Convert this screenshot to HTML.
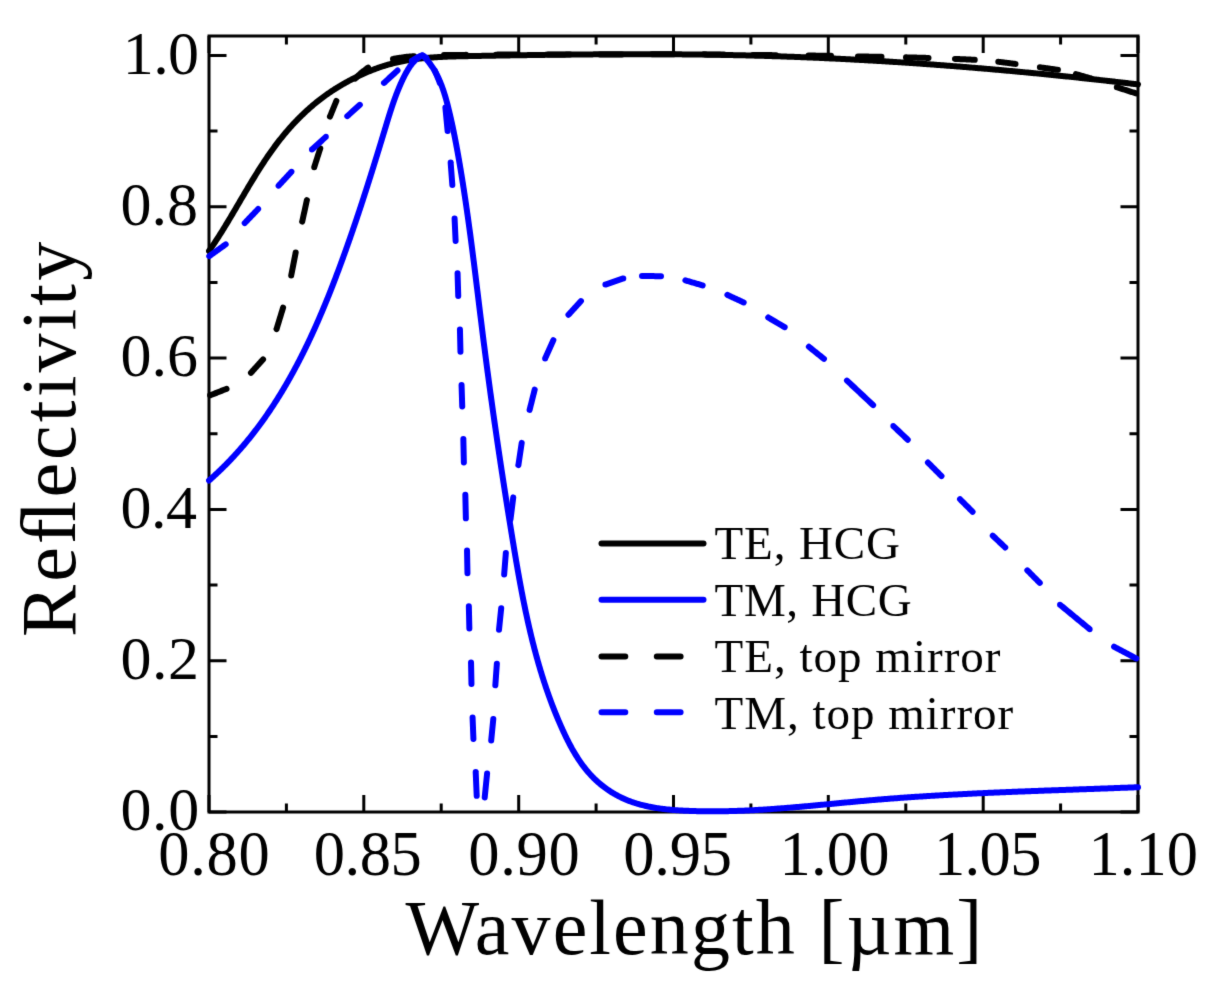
<!DOCTYPE html><html><head><meta charset="utf-8"><title>Reflectivity</title><style>html,body{margin:0;padding:0;background:#fff;overflow:hidden;}svg{display:block;will-change:transform;}text{font-family:"Liberation Serif",serif;fill:#000;}</style></head><body>
<svg width="1210" height="989" viewBox="0 0 1210 989">
<filter id="soft" x="0" y="0" width="1210" height="989" filterUnits="userSpaceOnUse" color-interpolation-filters="sRGB"><feConvolveMatrix order="3" kernelMatrix="0.01134 0.08382 0.01134 0.08382 0.61935 0.08382 0.01134 0.08382 0.01134" edgeMode="duplicate" preserveAlpha="true"/></filter>
<g filter="url(#soft)">
<rect x="0" y="0" width="1210" height="989" fill="#fff"/>
<path d="M209.0,812V795M209.0,36V53M363.8,812V795M363.8,36V53M518.7,812V795M518.7,36V53M673.5,812V795M673.5,36V53M828.3,812V795M828.3,36V53M983.2,812V795M983.2,36V53M1138.0,812V795M1138.0,36V53M286.4,812V803.5M286.4,36V44.5M441.2,812V803.5M441.2,36V44.5M596.1,812V803.5M596.1,36V44.5M750.9,812V803.5M750.9,36V44.5M905.8,812V803.5M905.8,36V44.5M1060.6,812V803.5M1060.6,36V44.5M209,812.0H226.5M1138,812.0H1120.5M209,660.7H226.5M1138,660.7H1120.5M209,509.4H226.5M1138,509.4H1120.5M209,358.1H226.5M1138,358.1H1120.5M209,206.8H226.5M1138,206.8H1120.5M209,55.5H226.5M1138,55.5H1120.5M209,736.4H217.5M1138,736.4H1129.5M209,585.0H217.5M1138,585.0H1129.5M209,433.8H217.5M1138,433.8H1129.5M209,282.5H217.5M1138,282.5H1129.5M209,131.1H217.5M1138,131.1H1129.5" stroke="#000" stroke-width="3" fill="none"/>
<rect x="209" y="36" width="929" height="776" stroke="#000" stroke-width="3" fill="none"/>
<clipPath id="pc"><rect x="206" y="30" width="935" height="790"/></clipPath>
<g fill="none" stroke-width="6.00" stroke-linejoin="round" stroke-linecap="round" clip-path="url(#pc)">
<path d="M209.00,251.00 L209.71,249.98 L210.42,248.97 L211.12,247.95 L211.82,246.92 L212.52,245.90 L213.21,244.87 L213.90,243.83 L214.59,242.80 L215.28,241.76 L215.96,240.72 L216.64,239.68 L217.32,238.64 L217.99,237.59 L218.66,236.55 L219.33,235.50 L220.00,234.44 L220.67,233.39 L221.33,232.33 L221.99,231.28 L222.65,230.22 L223.31,229.16 L223.97,228.09 L224.62,227.03 L225.27,225.96 L225.90,224.94 L226.52,223.91 L227.14,222.89 L227.76,221.86 L228.38,220.83 L229.00,219.80 L229.62,218.77 L230.24,217.74 L230.85,216.70 L231.47,215.67 L232.08,214.63 L232.69,213.60 L233.31,212.56 L233.92,211.53 L234.53,210.49 L235.14,209.45 L235.75,208.41 L236.36,207.37 L236.97,206.34 L237.58,205.30 L238.19,204.26 L238.80,203.22 L239.41,202.18 L240.02,201.14 L240.63,200.10 L241.24,199.06 L241.85,198.02 L242.46,196.98 L243.07,195.94 L243.68,194.90 L244.29,193.86 L244.91,192.82 L245.52,191.79 L246.13,190.75 L246.75,189.71 L247.36,188.68 L247.98,187.64 L248.59,186.60 L249.21,185.57 L249.83,184.54 L250.45,183.50 L251.07,182.47 L251.70,181.44 L252.32,180.41 L252.95,179.38 L253.57,178.36 L254.20,177.33 L254.83,176.31 L255.46,175.28 L256.10,174.26 L256.73,173.24 L257.37,172.22 L258.01,171.20 L258.65,170.18 L259.29,169.17 L259.94,168.16 L260.59,167.15 L261.23,166.14 L261.89,165.13 L262.57,164.08 L263.25,163.04 L263.94,161.99 L264.63,160.95 L265.32,159.91 L266.02,158.88 L266.72,157.84 L267.42,156.81 L268.12,155.78 L268.83,154.76 L269.55,153.73 L270.26,152.71 L270.98,151.70 L271.70,150.68 L272.43,149.67 L273.16,148.66 L273.89,147.65 L274.63,146.65 L275.37,145.65 L276.11,144.66 L276.86,143.66 L277.62,142.67 L278.37,141.69 L279.13,140.70 L279.90,139.72 L280.67,138.75 L281.45,137.78 L282.23,136.81 L283.01,135.84 L283.80,134.88 L284.59,133.93 L285.39,132.97 L286.19,132.03 L287.00,131.08 L287.81,130.14 L288.63,129.20 L289.45,128.27 L290.28,127.34 L291.11,126.42 L291.94,125.50 L292.78,124.58 L293.63,123.67 L294.48,122.77 L295.33,121.87 L296.19,120.97 L297.05,120.07 L297.92,119.19 L298.79,118.30 L299.67,117.42 L300.55,116.55 L301.44,115.68 L302.33,114.82 L303.23,113.96 L304.13,113.10 L305.04,112.25 L305.95,111.41 L306.87,110.57 L307.79,109.73 L308.72,108.90 L309.65,108.08 L310.58,107.26 L311.53,106.45 L312.47,105.64 L313.42,104.83 L314.38,104.04 L315.34,103.24 L316.31,102.46 L317.28,101.68 L318.25,100.90 L319.23,100.13 L320.22,99.37 L321.21,98.61 L322.21,97.86 L323.21,97.11 L324.21,96.37 L325.22,95.63 L326.20,94.93 L327.18,94.24 L328.16,93.55 L329.15,92.87 L330.15,92.19 L331.14,91.52 L332.15,90.85 L333.16,90.19 L334.17,89.54 L335.18,88.89 L336.21,88.24 L337.23,87.61 L338.26,86.97 L339.29,86.35 L340.33,85.73 L341.37,85.11 L342.42,84.50 L343.47,83.90 L344.52,83.30 L345.58,82.71 L346.64,82.12 L347.70,81.54 L348.77,80.96 L349.84,80.39 L350.91,79.83 L351.99,79.27 L353.07,78.71 L354.15,78.17 L355.24,77.62 L356.33,77.08 L357.42,76.55 L358.52,76.03 L359.61,75.51 L360.71,74.99 L361.82,74.48 L362.92,73.98 L364.03,73.49 L365.14,73.00 L366.26,72.52 L367.37,72.04 L368.49,71.57 L369.61,71.11 L370.73,70.65 L371.86,70.21 L372.99,69.77 L374.12,69.33 L375.25,68.91 L376.38,68.49 L377.51,68.08 L378.65,67.68 L379.79,67.28 L380.93,66.90 L382.07,66.52 L383.22,66.15 L384.36,65.79 L385.56,65.43 L386.76,65.07 L387.95,64.72 L389.15,64.39 L390.35,64.06 L391.56,63.74 L392.76,63.43 L393.97,63.13 L395.17,62.84 L396.38,62.56 L397.59,62.28 L398.80,62.02 L400.02,61.76 L401.23,61.51 L402.45,61.27 L403.66,61.03 L404.88,60.81 L406.10,60.59 L407.32,60.38 L408.54,60.17 L409.76,59.98 L410.99,59.79 L412.21,59.60 L413.44,59.43 L414.67,59.26 L415.89,59.09 L417.12,58.94 L418.35,58.78 L419.58,58.64 L420.82,58.50 L422.05,58.37 L423.28,58.24 L424.52,58.12 L425.75,58.00 L426.99,57.89 L428.23,57.78 L429.46,57.68 L430.70,57.58 L431.94,57.49 L433.18,57.40 L434.42,57.31 L435.66,57.23 L436.91,57.16 L438.15,57.08 L439.39,57.01 L440.64,56.95 L441.88,56.89 L443.13,56.83 L444.37,56.77 L445.62,56.72 L446.86,56.67 L448.11,56.62 L449.36,56.58 L450.61,56.54 L451.85,56.50 L453.10,56.46 L454.35,56.42 L455.60,56.39 L456.85,56.36 L458.10,56.33 L459.30,56.30 L460.50,56.27 L461.70,56.24 L462.90,56.22 L464.10,56.20 L465.30,56.17 L466.50,56.15 L467.70,56.13 L468.90,56.10 L470.10,56.08 L471.30,56.06 L472.50,56.04 L473.70,56.02 L474.90,55.99 L476.11,55.97 L477.31,55.95 L478.51,55.93 L479.71,55.91 L480.91,55.89 L482.11,55.86 L483.31,55.84 L484.51,55.82 L485.71,55.80 L486.91,55.78 L488.11,55.76 L489.31,55.74 L490.51,55.72 L491.71,55.70 L492.91,55.67 L494.12,55.65 L495.32,55.63 L496.52,55.61 L497.72,55.59 L498.92,55.57 L500.12,55.55 L501.32,55.53 L502.52,55.51 L503.72,55.49 L504.92,55.47 L506.12,55.45 L507.32,55.43 L508.52,55.41 L509.72,55.39 L510.92,55.37 L512.13,55.35 L513.33,55.34 L514.53,55.32 L515.73,55.30 L516.93,55.28 L518.13,55.26 L519.33,55.24 L520.53,55.22 L521.73,55.20 L522.93,55.19 L524.13,55.17 L525.33,55.15 L526.53,55.13 L527.73,55.11 L528.93,55.10 L530.14,55.08 L531.34,55.06 L532.54,55.04 L533.74,55.03 L534.94,55.01 L536.14,54.99 L537.34,54.98 L538.54,54.96 L539.74,54.94 L540.94,54.93 L542.14,54.91 L543.34,54.90 L544.54,54.88 L545.74,54.86 L546.94,54.85 L548.14,54.83 L549.35,54.82 L550.55,54.80 L551.75,54.79 L552.95,54.77 L554.15,54.76 L555.35,54.74 L556.55,54.73 L557.75,54.71 L558.95,54.70 L560.15,54.69 L561.35,54.67 L562.55,54.66 L563.75,54.65 L564.95,54.63 L566.15,54.62 L567.35,54.61 L568.56,54.59 L569.76,54.58 L570.96,54.57 L572.16,54.56 L573.36,54.54 L574.56,54.53 L575.76,54.52 L576.96,54.51 L578.16,54.50 L579.36,54.49 L580.56,54.48 L581.76,54.47 L582.96,54.46 L584.16,54.44 L585.36,54.43 L586.56,54.42 L587.76,54.42 L588.96,54.41 L590.16,54.40 L591.37,54.39 L592.57,54.38 L593.77,54.37 L594.97,54.36 L596.17,54.35 L597.37,54.34 L598.57,54.34 L599.77,54.33 L600.97,54.32 L602.17,54.31 L603.37,54.31 L604.57,54.30 L605.77,54.29 L606.97,54.29 L608.17,54.28 L609.37,54.27 L610.57,54.27 L611.77,54.26 L612.97,54.26 L614.17,54.25 L615.37,54.25 L616.57,54.24 L617.78,54.24 L618.98,54.23 L620.18,54.23 L621.38,54.23 L622.58,54.22 L623.78,54.22 L624.98,54.22 L626.18,54.21 L627.38,54.21 L628.58,54.21 L629.78,54.21 L630.98,54.21 L632.18,54.20 L633.38,54.20 L634.58,54.20 L635.78,54.20 L636.98,54.20 L638.18,54.20 L639.38,54.20 L640.58,54.20 L641.78,54.20 L642.98,54.20 L644.18,54.20 L645.38,54.20 L646.58,54.21 L647.78,54.21 L648.98,54.21 L650.18,54.21 L651.38,54.21 L652.58,54.22 L653.78,54.22 L654.98,54.22 L656.18,54.23 L657.38,54.23 L658.58,54.24 L659.78,54.24 L660.98,54.25 L662.18,54.25 L663.38,54.26 L664.58,54.26 L665.79,54.27 L666.99,54.27 L668.19,54.28 L669.39,54.29 L670.59,54.30 L671.79,54.30 L672.99,54.31 L674.19,54.32 L675.39,54.33 L676.59,54.34 L677.79,54.34 L678.99,54.35 L680.19,54.36 L681.39,54.37 L682.59,54.38 L683.79,54.39 L685.04,54.41 L686.29,54.42 L687.54,54.43 L688.79,54.44 L690.03,54.45 L691.28,54.47 L692.53,54.48 L693.78,54.49 L695.03,54.51 L696.28,54.52 L697.53,54.54 L698.78,54.55 L700.03,54.57 L701.28,54.58 L702.53,54.60 L703.78,54.62 L705.03,54.63 L706.28,54.65 L707.53,54.67 L708.78,54.69 L710.03,54.70 L711.28,54.72 L712.53,54.74 L713.78,54.76 L715.03,54.78 L716.28,54.80 L717.53,54.82 L718.78,54.84 L720.03,54.86 L721.28,54.89 L722.53,54.91 L723.78,54.93 L725.03,54.95 L726.28,54.98 L727.53,55.00 L728.78,55.02 L730.03,55.05 L731.28,55.07 L732.52,55.10 L733.77,55.13 L735.02,55.15 L736.27,55.18 L737.52,55.20 L738.77,55.23 L740.02,55.26 L741.27,55.29 L742.52,55.32 L743.77,55.35 L745.02,55.37 L746.27,55.40 L747.52,55.43 L748.77,55.47 L750.02,55.50 L751.27,55.53 L752.51,55.56 L753.76,55.59 L755.01,55.63 L756.26,55.66 L757.51,55.69 L758.76,55.73 L760.01,55.76 L761.26,55.80 L762.51,55.83 L763.76,55.87 L765.01,55.90 L766.26,55.94 L767.50,55.98 L768.75,56.01 L770.00,56.05 L771.25,56.09 L772.50,56.13 L773.75,56.17 L775.00,56.21 L776.25,56.25 L777.50,56.29 L778.75,56.33 L779.99,56.37 L781.24,56.41 L782.49,56.46 L783.74,56.50 L784.99,56.54 L786.24,56.58 L787.49,56.63 L788.74,56.67 L789.99,56.72 L791.23,56.76 L792.48,56.81 L793.73,56.86 L794.98,56.90 L796.23,56.95 L797.48,57.00 L798.73,57.04 L799.98,57.09 L801.22,57.14 L802.47,57.19 L803.72,57.24 L804.97,57.29 L806.22,57.34 L807.47,57.39 L808.72,57.44 L809.96,57.49 L811.21,57.55 L812.46,57.60 L813.71,57.65 L814.96,57.70 L816.21,57.76 L817.45,57.81 L818.70,57.87 L819.95,57.92 L821.20,57.98 L822.45,58.03 L823.70,58.09 L824.94,58.15 L826.19,58.20 L827.44,58.26 L828.69,58.32 L829.94,58.38 L831.19,58.43 L832.43,58.49 L833.68,58.55 L834.93,58.61 L836.18,58.67 L837.43,58.73 L838.68,58.80 L839.92,58.86 L841.17,58.92 L842.42,58.98 L843.67,59.04 L844.92,59.11 L846.16,59.17 L847.41,59.23 L848.66,59.30 L849.91,59.36 L851.16,59.43 L852.40,59.50 L853.65,59.56 L854.90,59.63 L856.15,59.69 L857.39,59.76 L858.64,59.83 L859.89,59.90 L861.14,59.97 L862.39,60.03 L863.63,60.10 L864.88,60.17 L866.13,60.24 L867.38,60.31 L868.62,60.39 L869.87,60.46 L871.12,60.53 L872.37,60.60 L873.61,60.67 L874.86,60.75 L876.11,60.82 L877.36,60.89 L878.60,60.97 L879.85,61.04 L881.10,61.12 L882.35,61.19 L883.59,61.27 L884.84,61.34 L886.09,61.42 L887.34,61.50 L888.58,61.57 L889.83,61.65 L891.08,61.73 L892.32,61.81 L893.57,61.89 L894.82,61.97 L896.07,62.04 L897.31,62.12 L898.56,62.20 L899.81,62.29 L901.05,62.37 L902.30,62.45 L903.55,62.53 L904.80,62.61 L906.04,62.70 L907.29,62.78 L908.54,62.86 L909.78,62.95 L911.03,63.03 L912.28,63.11 L913.52,63.20 L914.77,63.28 L916.02,63.37 L917.26,63.46 L918.51,63.54 L919.76,63.63 L921.00,63.72 L922.25,63.80 L923.50,63.89 L924.74,63.98 L925.99,64.07 L927.24,64.16 L928.48,64.25 L929.73,64.34 L930.98,64.43 L932.22,64.52 L933.47,64.61 L934.72,64.70 L935.96,64.79 L937.21,64.89 L938.45,64.98 L939.70,65.07 L940.95,65.17 L942.19,65.26 L943.44,65.35 L944.69,65.45 L945.93,65.54 L947.18,65.64 L948.42,65.73 L949.67,65.83 L950.92,65.93 L952.16,66.02 L953.41,66.12 L954.66,66.22 L955.90,66.31 L957.15,66.41 L958.39,66.51 L959.64,66.61 L960.88,66.71 L962.13,66.81 L963.38,66.91 L964.62,67.01 L965.87,67.11 L967.11,67.21 L968.36,67.31 L969.61,67.42 L970.85,67.52 L972.10,67.62 L973.34,67.72 L974.59,67.83 L975.83,67.93 L977.08,68.03 L978.32,68.14 L979.57,68.24 L980.82,68.35 L982.06,68.45 L983.31,68.56 L984.55,68.67 L985.80,68.77 L987.04,68.88 L988.29,68.99 L989.53,69.09 L990.78,69.20 L992.02,69.31 L993.27,69.42 L994.51,69.53 L995.76,69.64 L997.00,69.75 L998.25,69.86 L999.49,69.97 L1000.74,70.08 L1001.98,70.19 L1003.23,70.30 L1004.47,70.41 L1005.72,70.53 L1006.96,70.64 L1008.21,70.75 L1009.45,70.87 L1010.70,70.98 L1011.94,71.09 L1013.19,71.21 L1014.43,71.32 L1015.68,71.44 L1016.92,71.55 L1018.17,71.67 L1019.41,71.78 L1020.66,71.90 L1021.90,72.02 L1023.09,72.13 L1024.29,72.24 L1025.48,72.36 L1026.68,72.47 L1027.87,72.58 L1029.07,72.70 L1030.26,72.81 L1031.46,72.93 L1032.65,73.04 L1033.85,73.16 L1035.04,73.27 L1036.23,73.39 L1037.43,73.51 L1038.62,73.62 L1039.82,73.74 L1041.01,73.86 L1042.21,73.97 L1043.40,74.09 L1044.59,74.21 L1045.79,74.33 L1046.98,74.45 L1048.18,74.57 L1049.37,74.69 L1050.57,74.81 L1051.76,74.93 L1052.95,75.05 L1054.15,75.17 L1055.34,75.29 L1056.54,75.41 L1057.73,75.53 L1058.92,75.65 L1060.12,75.77 L1061.31,75.90 L1062.50,76.02 L1063.70,76.14 L1064.89,76.27 L1066.09,76.39 L1067.28,76.51 L1068.47,76.64 L1069.67,76.76 L1070.86,76.89 L1072.05,77.01 L1073.25,77.14 L1074.44,77.27 L1075.63,77.39 L1076.83,77.52 L1078.02,77.64 L1079.21,77.77 L1080.41,77.90 L1081.60,78.03 L1082.79,78.16 L1083.99,78.28 L1085.18,78.41 L1086.37,78.54 L1087.57,78.67 L1088.76,78.80 L1089.95,78.93 L1091.15,79.06 L1092.34,79.19 L1093.53,79.32 L1094.73,79.45 L1095.92,79.58 L1097.11,79.71 L1098.30,79.85 L1099.50,79.98 L1100.69,80.11 L1101.88,80.24 L1103.08,80.38 L1104.27,80.51 L1105.46,80.64 L1106.65,80.78 L1107.85,80.91 L1109.04,81.05 L1110.23,81.18 L1111.42,81.32 L1112.62,81.45 L1113.81,81.59 L1115.00,81.72 L1116.19,81.86 L1117.39,82.00 L1118.58,82.13 L1119.77,82.27 L1120.96,82.41 L1122.16,82.55 L1123.35,82.68 L1124.54,82.82 L1125.73,82.96 L1126.92,83.10 L1128.12,83.24 L1129.31,83.38 L1130.50,83.52 L1131.69,83.66 L1132.88,83.80 L1134.08,83.94 L1135.27,84.08 L1136.46,84.22 L1137.65,84.36 L1138.00,84.40" stroke="#000"/>
<path d="M210.06,395.36 L210.08,395.36 L210.78,395.08 L211.49,394.80 L212.19,394.52 L212.90,394.24 L213.60,393.96 L214.31,393.68 L215.01,393.40 L215.72,393.12 L216.42,392.84 L217.13,392.57 L217.83,392.29 L218.53,392.01 L219.24,391.73 L219.94,391.45 L220.65,391.17 L221.35,390.89 L222.06,390.61 L222.76,390.33 L223.47,390.05 L224.17,389.77 L224.88,389.50 L225.58,389.22 L226.29,388.94 L226.54,388.84M250.94,372.82 L250.95,372.81 L251.45,372.25 L251.95,371.69 L252.46,371.13 L252.96,370.57 L253.47,370.01 L253.97,369.45 L254.48,368.90 L254.98,368.34 L255.49,367.78 L255.99,367.22 L256.50,366.66 L257.00,366.10 L257.50,365.54 L258.01,364.98 L258.51,364.42 L259.02,363.86 L259.52,363.30 L260.03,362.75 L260.53,362.19 L261.04,361.63 L261.54,361.07 L262.05,360.51 L262.55,359.95 L263.05,359.39 L263.06,359.38M276.56,329.01 L276.57,329.00 L276.79,328.28 L277.01,327.56 L277.23,326.85 L277.45,326.13 L277.67,325.41 L277.89,324.69 L278.10,323.97 L278.32,323.25 L278.54,322.53 L278.76,321.81 L278.98,321.10 L279.20,320.38 L279.42,319.66 L279.64,318.94 L279.86,318.22 L280.08,317.50 L280.30,316.78 L280.52,316.06 L280.74,315.34 L280.96,314.63 L281.18,313.91 L281.40,313.19 L281.62,312.47 L281.84,311.75 L282.06,311.03 L282.28,310.31 L282.50,309.59 L282.72,308.88 L282.94,308.16 L283.09,307.67M291.19,275.53 L291.19,275.51 L291.34,274.77 L291.48,274.03 L291.63,273.29 L291.77,272.54 L291.92,271.80 L292.07,271.06 L292.21,270.31 L292.36,269.57 L292.50,268.83 L292.65,268.09 L292.79,267.34 L292.94,266.60 L293.09,265.86 L293.23,265.11 L293.38,264.37 L293.52,263.63 L293.67,262.89 L293.81,262.14 L293.96,261.40 L294.11,260.66 L294.25,259.91 L294.40,259.17 L294.54,258.43 L294.69,257.69 L294.83,256.94 L294.98,256.20 L295.13,255.46 L295.27,254.71 L295.42,253.97 L295.56,253.23 L295.71,252.49 L295.71,252.47M302.22,221.65 L302.23,221.63 L302.39,220.89 L302.55,220.15 L302.71,219.41 L302.87,218.67 L303.03,217.93 L303.19,217.19 L303.35,216.45 L303.51,215.71 L303.67,214.97 L303.83,214.23 L303.99,213.49 L304.15,212.75 L304.31,212.01 L304.47,211.27 L304.63,210.53 L304.79,209.79 L304.95,209.05 L305.11,208.31 L305.27,207.57 L305.43,206.83 L305.59,206.09 L305.75,205.35 L305.91,204.61 L306.07,203.87 L306.23,203.13 L306.39,202.39 L306.55,201.65 L306.71,200.91 L306.87,200.17 L306.88,200.15M314.21,167.20 L314.21,167.19 L314.45,166.47 L314.68,165.75 L314.91,165.04 L315.14,164.32 L315.37,163.60 L315.60,162.89 L315.83,162.17 L316.06,161.45 L316.29,160.74 L316.52,160.02 L316.75,159.30 L316.98,158.59 L317.21,157.87 L317.44,157.15 L317.67,156.44 L317.90,155.72 L318.13,155.00 L318.36,154.29 L318.59,153.57 L318.83,152.85 L319.06,152.13 L319.29,151.42 L319.52,150.70 L319.75,149.98 L319.98,149.27 L320.21,148.55 L320.29,148.30M329.95,116.65 L329.96,116.63 L330.25,115.93 L330.53,115.23 L330.82,114.53 L331.10,113.83 L331.39,113.12 L331.67,112.42 L331.96,111.72 L332.25,111.02 L332.53,110.32 L332.82,109.62 L333.10,108.92 L333.39,108.22 L333.67,107.51 L333.96,106.81 L334.24,106.11 L334.53,105.41 L334.82,104.71 L335.10,104.01 L335.39,103.31 L335.67,102.61 L335.96,101.90 L336.24,101.20 L336.35,100.95M355.14,78.62 L355.16,78.60 L355.71,78.08 L356.25,77.55 L356.80,77.03 L357.35,76.50 L357.90,75.97 L358.44,75.45 L358.99,74.92 L359.54,74.40 L360.09,73.88 L360.63,73.35 L361.20,72.85 L361.81,72.38 L362.42,71.92 L363.02,71.45 L363.63,70.99 L364.24,70.52 L364.85,70.06 L365.45,69.60 L366.06,69.13 L366.67,68.67 L367.27,68.20 L367.88,67.74 L368.11,67.56M392.98,58.89 L393.00,58.89 L393.75,58.77 L394.50,58.65 L395.25,58.53 L396.00,58.41 L396.75,58.30 L397.50,58.18 L398.25,58.06 L399.00,57.94 L399.75,57.83 L400.50,57.71 L401.25,57.59 L402.00,57.47 L402.75,57.35 L403.50,57.24 L404.25,57.12 L405.00,57.00 L405.75,56.93 L406.50,56.86 L407.25,56.79 L408.00,56.72 L408.75,56.65 L409.50,56.58 L410.25,56.51 L411.00,56.44 L411.75,56.37 L412.50,56.30 L413.25,56.23 L414.00,56.16 L414.01,56.16M444.00,55.12 L444.00,55.12 L444.75,55.10 L445.50,55.09 L446.25,55.08 L447.00,55.06 L447.75,55.05 L448.50,55.03 L449.25,55.02 L450.00,55.00 L450.75,54.99 L451.50,54.99 L452.25,54.98 L453.00,54.98 L453.75,54.97 L454.50,54.96 L455.25,54.96 L456.00,54.95 L456.75,54.95 L457.50,54.94 L458.25,54.93 L459.00,54.93 L459.75,54.92 L460.50,54.92 L461.25,54.91 L462.00,54.90 L462.75,54.90 L463.50,54.89 L464.25,54.89 L465.00,54.88 L465.75,54.87 L466.00,54.87M496.00,54.63 L496.00,54.63 L496.75,54.63 L497.50,54.62 L498.25,54.61 L499.00,54.61 L499.75,54.60 L500.50,54.60 L501.25,54.60 L502.00,54.60 L502.75,54.59 L503.50,54.59 L504.25,54.59 L505.00,54.59 L505.75,54.59 L506.50,54.59 L507.25,54.59 L508.00,54.58 L508.75,54.58 L509.50,54.58 L510.25,54.58 L511.00,54.58 L511.75,54.58 L512.50,54.58 L513.25,54.57 L514.00,54.57 L514.75,54.57 L515.50,54.57 L516.25,54.57 L517.00,54.57 L517.75,54.56 L518.00,54.56M548.00,54.50 L548.00,54.50 L548.75,54.50 L549.50,54.50 L550.25,54.50 L551.00,54.50 L551.75,54.50 L552.50,54.49 L553.25,54.49 L554.00,54.49 L554.75,54.49 L555.50,54.49 L556.25,54.49 L557.00,54.49 L557.75,54.48 L558.50,54.48 L559.25,54.48 L560.00,54.48 L560.75,54.48 L561.50,54.48 L562.25,54.48 L563.00,54.47 L563.75,54.47 L564.50,54.47 L565.25,54.47 L566.00,54.47 L566.75,54.47 L567.50,54.46 L568.25,54.46 L569.00,54.46 L569.75,54.46 L570.00,54.46M600.00,54.40 L600.00,54.40 L600.75,54.40 L601.50,54.40 L602.25,54.40 L603.00,54.40 L603.75,54.40 L604.50,54.40 L605.25,54.39 L606.00,54.39 L606.75,54.39 L607.50,54.39 L608.25,54.39 L609.00,54.39 L609.75,54.39 L610.50,54.39 L611.25,54.39 L612.00,54.39 L612.75,54.39 L613.50,54.39 L614.25,54.39 L615.00,54.38 L615.75,54.38 L616.50,54.38 L617.25,54.38 L618.00,54.38 L618.75,54.38 L619.50,54.38 L620.25,54.38 L621.00,54.38 L621.75,54.38 L622.00,54.38M652.00,54.35 L652.00,54.35 L652.75,54.35 L653.50,54.35 L654.25,54.35 L655.00,54.34 L655.75,54.34 L656.50,54.34 L657.25,54.34 L658.00,54.34 L658.75,54.34 L659.50,54.34 L660.25,54.34 L661.00,54.34 L661.75,54.34 L662.50,54.34 L663.25,54.34 L664.00,54.34 L664.75,54.34 L665.50,54.33 L666.25,54.33 L667.00,54.33 L667.75,54.33 L668.50,54.33 L669.25,54.33 L670.00,54.33 L670.75,54.33 L671.50,54.33 L672.25,54.33 L673.00,54.33 L673.75,54.33 L674.00,54.33M704.00,54.35 L704.00,54.35 L704.75,54.36 L705.50,54.36 L706.25,54.37 L707.00,54.38 L707.75,54.39 L708.50,54.40 L709.25,54.41 L710.00,54.42 L710.75,54.43 L711.50,54.43 L712.25,54.44 L713.00,54.45 L713.75,54.46 L714.50,54.47 L715.25,54.48 L716.00,54.49 L716.75,54.50 L717.50,54.50 L718.25,54.51 L719.00,54.52 L719.75,54.53 L720.50,54.54 L721.25,54.55 L722.00,54.56 L722.75,54.57 L723.50,54.57 L724.00,54.58M753.00,54.92 L753.00,54.92 L753.75,54.93 L754.50,54.94 L755.25,54.94 L756.00,54.95 L756.75,54.96 L757.50,54.97 L758.25,54.98 L759.00,54.99 L759.75,55.00 L760.50,55.01 L761.25,55.01 L762.00,55.02 L762.75,55.03 L763.50,55.04 L764.25,55.05 L765.00,55.05 L765.75,55.06 L766.50,55.07 L767.25,55.08 L768.00,55.09 L768.75,55.09 L769.50,55.10 L770.25,55.11 L771.00,55.12 L771.75,55.12 L772.50,55.13 L773.25,55.14 L774.00,55.15 L774.75,55.16 L775.50,55.16 L776.00,55.17M808.50,55.52 L808.50,55.52 L809.25,55.53 L810.00,55.54 L810.75,55.56 L811.50,55.57 L812.25,55.58 L813.00,55.59 L813.75,55.60 L814.50,55.61 L815.25,55.62 L816.00,55.63 L816.75,55.64 L817.50,55.66 L818.25,55.67 L819.00,55.68 L819.75,55.69 L820.50,55.70 L821.25,55.71 L822.00,55.72 L822.75,55.73 L823.50,55.74 L824.25,55.76 L825.00,55.77 L825.75,55.78 L826.50,55.79 L827.25,55.80 L828.00,55.81 L828.75,55.82 L829.50,55.83 L830.25,55.84 L831.00,55.86 L831.00,55.86M857.94,56.42 L857.95,56.42 L858.70,56.44 L859.46,56.45 L860.21,56.46 L860.96,56.48 L861.71,56.49 L862.46,56.51 L863.21,56.52 L863.96,56.53 L864.71,56.55 L865.47,56.56 L866.22,56.57 L866.97,56.59 L867.72,56.60 L868.47,56.62 L869.22,56.63 L869.97,56.64 L870.73,56.66 L871.48,56.67 L872.23,56.68 L872.98,56.70 L873.73,56.71 L874.48,56.73 L875.23,56.74 L875.99,56.75 L876.74,56.77 L877.49,56.78 L878.24,56.79 L878.99,56.81 L879.74,56.82 L880.49,56.84 L881.24,56.85 L881.50,56.85M906.00,57.35 L906.00,57.35 L906.75,57.37 L907.50,57.39 L908.25,57.41 L909.00,57.43 L909.75,57.45 L910.50,57.47 L911.25,57.49 L912.00,57.51 L912.75,57.53 L913.50,57.55 L914.25,57.57 L915.00,57.59 L915.75,57.60 L916.50,57.62 L917.25,57.64 L918.00,57.66 L918.75,57.68 L919.50,57.70 L920.25,57.72 L921.00,57.74 L921.75,57.76 L922.50,57.78 L923.25,57.80 L924.00,57.82 L924.75,57.84 L925.50,57.86 L926.25,57.88 L927.00,57.90 L927.75,57.92 L928.50,57.94 L928.50,57.94M955.00,58.89 L955.00,58.89 L955.75,58.93 L956.50,58.96 L957.25,58.99 L958.00,59.03 L958.75,59.06 L959.50,59.10 L960.25,59.13 L961.00,59.17 L961.75,59.20 L962.50,59.24 L963.25,59.27 L964.00,59.30 L964.75,59.34 L965.50,59.37 L966.25,59.41 L967.00,59.44 L967.75,59.48 L968.50,59.51 L969.25,59.54 L970.00,59.58 L970.75,59.61 L971.50,59.65 L972.25,59.68 L973.00,59.72 L973.75,59.75 L974.50,59.79 L974.75,59.80M998.28,61.75 L998.30,61.75 L999.04,61.85 L999.79,61.94 L1000.54,62.04 L1001.29,62.14 L1002.04,62.23 L1002.78,62.33 L1003.53,62.42 L1004.28,62.52 L1005.03,62.61 L1005.78,62.71 L1006.53,62.80 L1007.27,62.90 L1008.02,62.99 L1008.77,63.09 L1009.52,63.18 L1010.27,63.28 L1011.02,63.37 L1011.76,63.47 L1012.51,63.56 L1013.26,63.66 L1014.01,63.76 L1014.76,63.85 L1015.50,63.95 L1015.52,63.95M1039.88,67.28 L1039.90,67.28 L1040.65,67.39 L1041.40,67.49 L1042.15,67.60 L1042.90,67.70 L1043.65,67.81 L1044.40,67.92 L1045.15,68.02 L1045.90,68.13 L1046.65,68.23 L1047.40,68.34 L1048.15,68.44 L1048.90,68.55 L1049.65,68.66 L1050.40,68.76 L1051.15,68.87 L1051.90,68.97 L1052.65,69.08 L1053.40,69.18 L1054.15,69.29 L1054.90,69.40 L1055.65,69.50 L1056.40,69.61 L1057.15,69.71 L1057.90,69.82 L1057.92,69.82M1075.92,74.15 L1075.92,74.15 L1076.65,74.35 L1077.37,74.56 L1078.09,74.76 L1078.81,74.97 L1079.53,75.17 L1080.25,75.38 L1080.97,75.58 L1081.70,75.79 L1082.42,75.99 L1083.14,76.20 L1083.86,76.40 L1084.58,76.61 L1085.30,76.81 L1086.03,77.02 L1086.75,77.22 L1087.47,77.43 L1088.19,77.63 L1088.91,77.84 L1089.63,78.04 L1090.35,78.25 L1091.08,78.45 L1091.08,78.45M1116.80,87.21 L1116.81,87.21 L1117.52,87.44 L1118.23,87.67 L1118.95,87.90 L1119.66,88.13 L1120.38,88.35 L1121.09,88.58 L1121.81,88.81 L1122.52,89.04 L1123.24,89.27 L1123.95,89.50 L1124.66,89.73 L1125.38,89.96 L1126.09,90.19 L1126.81,90.41 L1127.52,90.64 L1128.24,90.87 L1128.95,91.10 L1129.66,91.33 L1130.38,91.56 L1131.09,91.79 L1131.81,92.02 L1132.52,92.25 L1133.24,92.47 L1133.95,92.70 L1134.67,92.93 L1135.38,93.16 L1136.09,93.39 L1136.10,93.39" stroke="#000"/>
<path d="M209.00,480.51 L209.91,479.70 L210.82,478.90 L211.72,478.09 L212.62,477.28 L213.52,476.46 L214.41,475.65 L215.30,474.83 L216.19,474.00 L217.07,473.18 L217.95,472.35 L218.83,471.52 L219.70,470.69 L220.57,469.85 L221.43,469.01 L222.29,468.17 L223.15,467.32 L224.00,466.47 L224.86,465.62 L225.70,464.77 L226.55,463.91 L227.39,463.05 L228.23,462.19 L229.06,461.33 L229.89,460.46 L230.72,459.59 L231.58,458.69 L232.43,457.77 L233.28,456.86 L234.13,455.94 L234.97,455.02 L235.81,454.10 L236.65,453.18 L237.48,452.25 L238.31,451.32 L239.14,450.38 L239.96,449.45 L240.78,448.51 L241.60,447.57 L242.41,446.62 L243.22,445.68 L244.03,444.73 L244.83,443.78 L245.63,442.82 L246.42,441.87 L247.21,440.91 L248.00,439.94 L248.79,438.98 L249.57,438.01 L250.35,437.04 L251.13,436.07 L251.90,435.10 L252.67,434.12 L253.43,433.14 L254.20,432.16 L254.95,431.17 L255.71,430.19 L256.46,429.20 L257.21,428.21 L257.96,427.21 L258.70,426.22 L259.44,425.22 L260.18,424.22 L260.92,423.22 L261.65,422.21 L262.37,421.20 L263.10,420.19 L263.82,419.18 L264.54,418.17 L265.26,417.15 L265.97,416.13 L266.68,415.11 L267.39,414.09 L268.09,413.06 L268.79,412.04 L269.49,411.01 L270.18,409.98 L270.88,408.94 L271.57,407.91 L272.25,406.87 L272.94,405.83 L273.62,404.79 L274.29,403.75 L274.97,402.70 L275.64,401.65 L276.31,400.61 L276.98,399.55 L277.64,398.50 L278.30,397.45 L278.96,396.39 L279.62,395.33 L280.27,394.27 L280.92,393.21 L281.57,392.14 L282.21,391.08 L282.85,390.01 L283.49,388.94 L284.13,387.87 L284.76,386.79 L285.39,385.72 L286.02,384.64 L286.65,383.56 L287.27,382.48 L287.89,381.40 L288.51,380.32 L289.13,379.23 L289.74,378.15 L290.35,377.06 L290.96,375.97 L291.57,374.88 L292.17,373.78 L292.77,372.69 L293.37,371.59 L293.97,370.50 L294.56,369.40 L295.16,368.30 L295.74,367.19 L296.31,366.13 L296.87,365.07 L297.43,364.01 L297.99,362.95 L298.54,361.88 L299.09,360.82 L299.64,359.75 L300.19,358.68 L300.74,357.61 L301.28,356.54 L301.83,355.47 L302.37,354.39 L302.91,353.32 L303.44,352.24 L303.98,351.17 L304.51,350.09 L305.04,349.01 L305.57,347.93 L306.09,346.85 L306.62,345.76 L307.14,344.68 L307.66,343.60 L308.18,342.51 L308.70,341.42 L309.21,340.34 L309.73,339.25 L310.24,338.16 L310.75,337.07 L311.25,335.97 L311.76,334.88 L312.26,333.79 L312.77,332.69 L313.27,331.60 L313.76,330.50 L314.26,329.40 L314.76,328.31 L315.25,327.21 L315.74,326.11 L316.23,325.01 L316.72,323.90 L317.21,322.80 L317.69,321.70 L318.17,320.59 L318.66,319.49 L319.14,318.38 L319.61,317.28 L320.09,316.17 L320.57,315.06 L321.04,313.95 L321.51,312.84 L321.98,311.73 L322.45,310.62 L322.92,309.51 L323.38,308.40 L323.85,307.29 L324.31,306.18 L324.77,305.06 L325.23,303.95 L325.69,302.83 L326.15,301.72 L326.60,300.60 L327.06,299.49 L327.51,298.37 L327.96,297.25 L328.41,296.13 L328.86,295.01 L329.30,293.90 L329.75,292.78 L330.19,291.66 L330.64,290.54 L331.08,289.42 L331.52,288.29 L331.96,287.17 L332.40,286.05 L332.83,284.93 L333.27,283.81 L333.70,282.68 L334.13,281.56 L334.56,280.44 L335.00,279.31 L335.42,278.19 L335.85,277.07 L336.28,275.94 L336.70,274.82 L337.13,273.69 L337.55,272.57 L337.97,271.44 L338.40,270.31 L338.82,269.19 L339.23,268.06 L339.65,266.94 L340.07,265.81 L340.48,264.68 L340.90,263.56 L341.33,262.38 L341.76,261.21 L342.19,260.04 L342.62,258.86 L343.04,257.69 L343.47,256.52 L343.89,255.34 L344.31,254.17 L344.74,253.00 L345.16,251.82 L345.58,250.65 L346.00,249.47 L346.42,248.30 L346.83,247.13 L347.25,245.95 L347.67,244.78 L348.08,243.60 L348.49,242.43 L348.91,241.25 L349.32,240.08 L349.73,238.90 L350.14,237.73 L350.55,236.55 L350.96,235.38 L351.36,234.20 L351.77,233.03 L352.17,231.85 L352.58,230.68 L352.98,229.50 L353.39,228.32 L353.79,227.15 L354.19,225.97 L354.59,224.79 L354.99,223.62 L355.39,222.44 L355.79,221.26 L356.18,220.08 L356.58,218.91 L356.98,217.73 L357.37,216.55 L357.77,215.37 L358.16,214.19 L358.55,213.01 L358.94,211.84 L359.34,210.66 L359.73,209.48 L360.12,208.30 L360.51,207.12 L360.90,205.94 L361.28,204.75 L361.67,203.57 L362.06,202.39 L362.45,201.21 L362.83,200.03 L363.22,198.85 L363.60,197.66 L363.98,196.48 L364.37,195.30 L364.75,194.11 L365.13,192.93 L365.51,191.75 L365.90,190.56 L366.28,189.38 L366.66,188.19 L367.04,187.01 L367.42,185.82 L367.79,184.63 L368.17,183.45 L368.55,182.26 L368.93,181.07 L369.30,179.88 L369.68,178.70 L370.06,177.51 L370.43,176.32 L370.81,175.13 L371.18,173.94 L371.55,172.75 L371.93,171.56 L372.30,170.37 L372.67,169.17 L373.05,167.98 L373.42,166.79 L373.79,165.60 L374.15,164.45 L374.50,163.30 L374.86,162.16 L375.22,161.01 L375.57,159.86 L375.93,158.71 L376.28,157.57 L376.64,156.42 L376.99,155.27 L377.35,154.12 L377.70,152.97 L378.05,151.82 L378.41,150.66 L378.76,149.51 L379.11,148.36 L379.47,147.21 L379.82,146.05 L380.17,144.90 L380.52,143.75 L380.88,142.59 L381.23,141.43 L381.58,140.28 L381.93,139.12 L382.28,137.96 L382.64,136.81 L382.99,135.65 L383.34,134.49 L383.69,133.33 L384.04,132.17 L384.39,131.01 L384.74,129.85 L385.09,128.69 L385.45,127.53 L385.80,126.36 L386.15,125.20 L386.50,124.04 L386.85,122.88 L387.21,121.71 L387.56,120.55 L387.92,119.39 L388.28,118.23 L388.64,117.07 L389.00,115.91 L389.37,114.75 L389.73,113.59 L390.10,112.43 L390.47,111.28 L390.84,110.13 L391.22,108.97 L391.60,107.82 L391.98,106.67 L392.36,105.53 L392.75,104.38 L393.14,103.24 L393.54,102.10 L393.94,100.96 L394.34,99.82 L394.75,98.69 L395.16,97.56 L395.58,96.43 L396.00,95.30 L396.43,94.18 L396.88,93.01 L397.33,91.85 L397.80,90.69 L398.26,89.54 L398.74,88.39 L399.22,87.24 L399.70,86.10 L400.19,84.96 L400.69,83.83 L401.20,82.70 L401.72,81.58 L402.24,80.46 L402.77,79.34 L403.30,78.23 L403.85,77.13 L404.40,76.03 L404.97,74.94 L405.54,73.85 L406.12,72.77 L406.71,71.70 L407.32,70.65 L407.94,69.60 L408.58,68.57 L409.24,67.55 L409.91,66.55 L410.61,65.57 L411.34,64.61 L412.08,63.67 L412.89,62.72 L413.72,61.79 L414.59,60.89 L415.46,60.06 L416.36,59.26 L417.29,58.49 L418.26,57.75 L419.27,57.05 L420.32,56.38 L421.36,55.78 L422.44,55.21 L423.35,56.02 L424.21,56.90 L425.05,57.79 L425.87,58.69 L426.67,59.60 L427.45,60.51 L428.21,61.44 L428.98,62.42 L429.74,63.41 L430.47,64.40 L431.19,65.41 L431.89,66.43 L432.57,67.45 L433.24,68.49 L433.88,69.53 L434.52,70.58 L435.13,71.64 L435.73,72.71 L436.31,73.79 L436.88,74.87 L437.43,75.96 L437.97,77.06 L438.50,78.16 L439.01,79.28 L439.50,80.40 L439.99,81.52 L440.46,82.65 L440.92,83.79 L441.37,84.94 L441.81,86.08 L442.24,87.24 L442.66,88.40 L443.06,89.56 L443.46,90.73 L443.85,91.91 L444.23,93.08 L444.60,94.27 L444.96,95.45 L445.32,96.64 L445.67,97.83 L446.01,99.03 L446.34,100.23 L446.67,101.43 L446.99,102.63 L447.31,103.84 L447.62,105.05 L447.93,106.26 L448.23,107.47 L448.53,108.68 L448.82,109.85 L449.10,111.02 L449.38,112.18 L449.66,113.35 L449.93,114.52 L450.20,115.69 L450.47,116.86 L450.74,118.04 L451.00,119.21 L451.27,120.38 L451.53,121.55 L451.79,122.73 L452.04,123.90 L452.29,125.08 L452.55,126.26 L452.80,127.43 L453.04,128.61 L453.29,129.79 L453.53,130.97 L453.77,132.15 L454.01,133.33 L454.25,134.51 L454.49,135.69 L454.72,136.87 L454.95,138.05 L455.18,139.23 L455.41,140.41 L455.64,141.59 L455.87,142.78 L456.09,143.96 L456.31,145.14 L456.53,146.33 L456.75,147.51 L456.97,148.70 L457.19,149.88 L457.40,151.07 L457.62,152.25 L457.83,153.44 L458.04,154.62 L458.25,155.81 L458.46,156.99 L458.67,158.18 L458.87,159.37 L459.08,160.55 L459.28,161.74 L459.49,162.93 L459.69,164.11 L459.89,165.30 L460.09,166.48 L460.29,167.67 L460.49,168.86 L460.69,170.05 L460.88,171.23 L461.08,172.42 L461.27,173.61 L461.47,174.79 L461.66,175.98 L461.85,177.17 L462.04,178.35 L462.23,179.54 L462.42,180.73 L462.61,181.92 L462.80,183.10 L462.99,184.29 L463.17,185.48 L463.36,186.67 L463.54,187.85 L463.73,189.04 L463.91,190.23 L464.09,191.42 L464.27,192.60 L464.45,193.79 L464.63,194.98 L464.81,196.17 L464.99,197.35 L465.17,198.54 L465.35,199.73 L465.52,200.92 L465.70,202.11 L465.87,203.29 L466.05,204.48 L466.22,205.67 L466.39,206.86 L466.56,208.05 L466.73,209.24 L466.91,210.42 L467.08,211.61 L467.24,212.80 L467.41,213.99 L467.58,215.18 L467.75,216.37 L467.92,217.55 L468.08,218.74 L468.25,219.93 L468.41,221.12 L468.58,222.36 L468.75,223.60 L468.93,224.83 L469.09,226.07 L469.26,227.31 L469.43,228.55 L469.60,229.79 L469.77,231.03 L469.93,232.26 L470.10,233.50 L470.27,234.74 L470.43,235.98 L470.60,237.22 L470.76,238.46 L470.92,239.70 L471.09,240.93 L471.25,242.17 L471.41,243.41 L471.57,244.65 L471.74,245.89 L471.90,247.13 L472.06,248.37 L472.22,249.60 L472.38,250.84 L472.54,252.08 L472.70,253.32 L472.85,254.56 L473.01,255.80 L473.17,257.04 L473.33,258.28 L473.49,259.52 L473.64,260.75 L473.80,261.99 L473.96,263.23 L474.11,264.47 L474.27,265.71 L474.42,266.95 L474.58,268.19 L474.73,269.43 L474.89,270.67 L475.04,271.90 L475.20,273.14 L475.35,274.38 L475.51,275.62 L475.66,276.86 L475.81,278.10 L475.97,279.34 L476.12,280.58 L476.27,281.82 L476.43,283.06 L476.58,284.30 L476.73,285.53 L476.88,286.77 L477.04,288.01 L477.19,289.25 L477.34,290.49 L477.49,291.73 L477.64,292.97 L477.80,294.21 L477.95,295.45 L478.10,296.69 L478.25,297.93 L478.40,299.16 L478.56,300.40 L478.71,301.64 L478.86,302.88 L479.01,304.12 L479.16,305.36 L479.31,306.60 L479.47,307.84 L479.62,309.08 L479.77,310.32 L479.92,311.55 L480.07,312.79 L480.23,314.03 L480.38,315.27 L480.53,316.51 L480.68,317.75 L480.84,318.99 L480.99,320.23 L481.14,321.47 L481.30,322.71 L481.45,323.94 L481.60,325.18 L481.76,326.42 L481.91,327.66 L482.06,328.90 L482.22,330.14 L482.37,331.38 L482.53,332.62 L482.68,333.85 L482.84,335.09 L482.99,336.33 L483.15,337.57 L483.31,338.81 L483.46,340.05 L483.62,341.29 L483.78,342.53 L483.93,343.76 L484.09,345.00 L484.25,346.24 L484.41,347.48 L484.57,348.72 L484.72,349.96 L484.88,351.20 L485.04,352.43 L485.20,353.67 L485.36,354.91 L485.52,356.15 L485.68,357.39 L485.85,358.63 L486.01,359.86 L486.17,361.10 L486.33,362.34 L486.49,363.58 L486.66,364.82 L486.82,366.05 L486.98,367.29 L487.15,368.53 L487.31,369.77 L487.47,371.01 L487.64,372.25 L487.80,373.48 L487.97,374.72 L488.14,375.96 L488.30,377.20 L488.47,378.44 L488.63,379.67 L488.80,380.91 L488.97,382.15 L489.13,383.39 L489.30,384.62 L489.47,385.86 L489.64,387.10 L489.81,388.34 L489.98,389.58 L490.15,390.81 L490.31,392.05 L490.48,393.29 L490.65,394.53 L490.83,395.76 L491.00,397.00 L491.17,398.24 L491.34,399.48 L491.51,400.71 L491.68,401.95 L491.85,403.19 L492.03,404.43 L492.20,405.66 L492.37,406.90 L492.55,408.14 L492.72,409.38 L492.89,410.61 L493.07,411.85 L493.24,413.09 L493.42,414.32 L493.59,415.56 L493.77,416.80 L493.94,418.04 L494.12,419.27 L494.30,420.51 L494.47,421.75 L494.65,422.99 L494.83,424.22 L495.00,425.46 L495.18,426.70 L495.36,427.93 L495.54,429.17 L495.72,430.41 L495.90,431.64 L496.08,432.88 L496.26,434.12 L496.44,435.35 L496.62,436.59 L496.80,437.83 L496.98,439.07 L497.16,440.30 L497.34,441.54 L497.52,442.78 L497.70,443.96 L497.87,445.15 L498.05,446.34 L498.22,447.52 L498.40,448.71 L498.57,449.90 L498.75,451.09 L498.93,452.27 L499.10,453.46 L499.28,454.65 L499.46,455.83 L499.63,457.02 L499.81,458.21 L499.99,459.39 L500.17,460.58 L500.35,461.77 L500.52,462.96 L500.70,464.14 L500.88,465.33 L501.06,466.52 L501.24,467.70 L501.42,468.89 L501.60,470.08 L501.78,471.26 L501.96,472.45 L502.14,473.64 L502.33,474.82 L502.51,476.01 L502.69,477.20 L502.87,478.38 L503.05,479.57 L503.24,480.76 L503.42,481.94 L503.60,483.13 L503.79,484.32 L503.97,485.50 L504.15,486.69 L504.34,487.88 L504.52,489.06 L504.71,490.25 L504.89,491.43 L505.08,492.62 L505.26,493.81 L505.45,494.99 L505.63,496.18 L505.82,497.37 L506.00,498.55 L506.19,499.74 L506.38,500.92 L506.56,502.11 L506.75,503.30 L506.94,504.48 L507.13,505.67 L507.31,506.86 L507.50,508.04 L507.69,509.23 L507.88,510.41 L508.07,511.60 L508.26,512.79 L508.45,513.97 L508.64,515.16 L508.83,516.34 L509.02,517.53 L509.21,518.72 L509.40,519.90 L509.59,521.09 L509.78,522.27 L509.97,523.46 L510.16,524.64 L510.35,525.83 L510.55,527.02 L510.74,528.20 L510.93,529.39 L511.12,530.57 L511.32,531.76 L511.51,532.94 L511.70,534.13 L511.90,535.32 L512.09,536.50 L512.29,537.69 L512.48,538.87 L512.67,540.06 L512.87,541.24 L513.06,542.43 L513.26,543.61 L513.46,544.80 L513.65,545.99 L513.85,547.17 L514.05,548.36 L514.24,549.54 L514.44,550.73 L514.64,551.91 L514.84,553.10 L515.04,554.28 L515.24,555.46 L515.44,556.65 L515.64,557.83 L515.84,559.02 L516.04,560.20 L516.24,561.39 L516.45,562.57 L516.65,563.75 L516.86,564.94 L517.06,566.12 L517.27,567.30 L517.47,568.49 L517.68,569.67 L517.89,570.85 L518.10,572.03 L518.31,573.22 L518.52,574.40 L518.73,575.58 L518.94,576.76 L519.16,577.94 L519.37,579.13 L519.59,580.31 L519.80,581.49 L520.02,582.67 L520.24,583.85 L520.46,585.03 L520.68,586.21 L520.90,587.39 L521.12,588.57 L521.34,589.75 L521.58,590.97 L521.81,592.20 L522.05,593.43 L522.28,594.66 L522.52,595.88 L522.76,597.11 L523.00,598.34 L523.25,599.56 L523.49,600.79 L523.73,602.01 L523.98,603.24 L524.23,604.46 L524.48,605.68 L524.73,606.91 L524.98,608.13 L525.24,609.35 L525.49,610.58 L525.75,611.80 L526.01,613.02 L526.27,614.24 L526.53,615.46 L526.79,616.68 L527.06,617.90 L527.33,619.12 L527.59,620.34 L527.86,621.56 L528.14,622.77 L528.41,623.99 L528.69,625.21 L528.96,626.42 L529.24,627.64 L529.52,628.86 L529.81,630.07 L530.09,631.29 L530.38,632.50 L530.67,633.71 L530.96,634.93 L531.25,636.14 L531.55,637.35 L531.84,638.56 L532.14,639.77 L532.44,640.98 L532.75,642.19 L533.05,643.40 L533.36,644.61 L533.67,645.82 L533.98,647.02 L534.29,648.23 L534.61,649.44 L534.93,650.64 L535.25,651.85 L535.57,653.05 L535.90,654.25 L536.23,655.46 L536.56,656.66 L536.89,657.86 L537.22,659.06 L537.56,660.26 L537.90,661.46 L538.24,662.66 L538.59,663.86 L538.94,665.05 L539.29,666.25 L539.64,667.45 L539.99,668.64 L540.35,669.84 L540.71,671.03 L541.07,672.22 L541.44,673.42 L541.81,674.61 L542.18,675.80 L542.55,676.99 L542.93,678.18 L543.31,679.37 L543.69,680.56 L544.07,681.74 L544.46,682.93 L544.85,684.11 L545.25,685.30 L545.64,686.48 L546.04,687.67 L546.44,688.85 L546.85,690.03 L547.26,691.21 L547.67,692.39 L548.08,693.57 L548.50,694.75 L548.92,695.92 L549.33,697.05 L549.74,698.18 L550.15,699.31 L550.56,700.44 L550.98,701.56 L551.40,702.69 L551.83,703.81 L552.25,704.93 L552.68,706.06 L553.12,707.18 L553.55,708.30 L553.99,709.42 L554.43,710.54 L554.88,711.66 L555.33,712.78 L555.78,713.89 L556.24,715.01 L556.69,716.12 L557.16,717.24 L557.62,718.35 L558.09,719.46 L558.56,720.57 L559.03,721.68 L559.51,722.79 L559.99,723.90 L560.48,725.01 L560.96,726.11 L561.46,727.22 L561.95,728.32 L562.45,729.43 L562.95,730.53 L563.46,731.63 L563.97,732.73 L564.48,733.82 L565.00,734.92 L565.52,736.01 L566.05,737.10 L566.58,738.19 L567.12,739.27 L567.66,740.36 L568.21,741.43 L568.76,742.51 L569.32,743.58 L569.88,744.65 L570.45,745.72 L571.03,746.78 L571.61,747.83 L572.19,748.89 L572.79,749.93 L573.39,750.98 L573.99,752.02 L574.61,753.05 L575.23,754.08 L575.85,755.11 L576.51,756.17 L577.18,757.22 L577.86,758.27 L578.54,759.31 L579.23,760.35 L579.93,761.38 L580.64,762.40 L581.36,763.42 L582.09,764.42 L582.83,765.42 L583.57,766.42 L584.33,767.40 L585.09,768.38 L585.87,769.35 L586.65,770.31 L587.45,771.26 L588.25,772.20 L589.07,773.13 L589.89,774.06 L590.73,774.97 L591.58,775.88 L592.43,776.77 L593.30,777.66 L594.18,778.53 L595.08,779.40 L595.98,780.25 L596.89,781.10 L597.82,781.93 L598.76,782.75 L599.70,783.56 L600.66,784.36 L601.63,785.15 L602.61,785.93 L603.60,786.69 L604.59,787.44 L605.60,788.18 L606.62,788.91 L607.64,789.63 L608.67,790.33 L609.71,791.02 L610.76,791.70 L611.82,792.36 L612.88,793.01 L613.95,793.65 L615.03,794.28 L616.12,794.89 L617.21,795.48 L618.31,796.07 L619.41,796.63 L620.52,797.19 L621.64,797.73 L622.76,798.25 L623.88,798.76 L625.02,799.26 L626.15,799.74 L627.29,800.21 L628.44,800.67 L629.59,801.11 L630.75,801.54 L631.91,801.96 L633.07,802.36 L634.24,802.75 L635.41,803.13 L636.59,803.50 L637.77,803.85 L638.96,804.20 L640.15,804.53 L641.34,804.85 L642.54,805.16 L643.74,805.46 L644.94,805.75 L646.15,806.03 L647.36,806.30 L648.57,806.56 L649.79,806.81 L651.01,807.05 L652.23,807.28 L653.46,807.50 L654.68,807.71 L655.91,807.92 L657.15,808.11 L658.38,808.30 L659.57,808.47 L660.76,808.64 L661.95,808.79 L663.14,808.94 L664.34,809.09 L665.53,809.23 L666.73,809.36 L667.93,809.48 L669.13,809.60 L670.33,809.72 L671.54,809.83 L672.74,809.93 L673.95,810.03 L675.15,810.12 L676.36,810.21 L677.57,810.29 L678.77,810.37 L679.98,810.45 L681.19,810.52 L682.40,810.58 L683.61,810.65 L684.82,810.71 L686.03,810.76 L687.24,810.81 L688.45,810.86 L689.66,810.91 L690.86,810.96 L692.07,811.00 L693.28,811.04 L694.49,811.07 L695.70,811.11 L696.90,811.14 L698.11,811.17 L699.32,811.20 L700.53,811.22 L701.73,811.24 L702.94,811.26 L704.14,811.28 L705.35,811.29 L706.55,811.31 L707.76,811.32 L708.96,811.32 L710.17,811.33 L711.37,811.33 L712.58,811.33 L713.78,811.33 L714.98,811.33 L716.19,811.32 L717.39,811.31 L718.59,811.30 L719.80,811.29 L721.00,811.28 L722.20,811.26 L723.40,811.24 L724.61,811.22 L725.81,811.20 L727.01,811.17 L728.21,811.15 L729.41,811.12 L730.61,811.09 L731.81,811.06 L733.01,811.02 L734.21,810.99 L735.41,810.95 L736.61,810.91 L737.81,810.87 L739.01,810.82 L740.21,810.78 L741.46,810.73 L742.71,810.68 L743.96,810.63 L745.21,810.57 L746.45,810.52 L747.70,810.46 L748.95,810.40 L750.20,810.34 L751.44,810.27 L752.69,810.21 L753.94,810.14 L755.19,810.08 L756.43,810.01 L757.68,809.94 L758.93,809.86 L760.17,809.79 L761.42,809.71 L762.67,809.64 L763.91,809.56 L765.16,809.48 L766.40,809.40 L767.65,809.32 L768.89,809.23 L770.14,809.15 L771.38,809.06 L772.63,808.97 L773.87,808.88 L775.12,808.79 L776.36,808.70 L777.61,808.61 L778.85,808.52 L780.10,808.42 L781.34,808.33 L782.59,808.23 L783.83,808.13 L785.07,808.04 L786.32,807.94 L787.56,807.83 L788.81,807.73 L790.05,807.63 L791.29,807.53 L792.54,807.42 L793.78,807.32 L795.02,807.21 L796.27,807.11 L797.51,807.00 L798.75,806.89 L800.00,806.78 L801.24,806.67 L802.48,806.56 L803.72,806.45 L804.97,806.34 L806.21,806.23 L807.45,806.12 L808.70,806.00 L809.94,805.89 L811.18,805.78 L812.42,805.66 L813.67,805.55 L814.91,805.43 L816.15,805.32 L817.39,805.20 L818.64,805.08 L819.88,804.97 L821.12,804.85 L822.36,804.73 L823.61,804.62 L824.85,804.50 L826.09,804.38 L827.33,804.26 L828.58,804.14 L829.82,804.03 L831.06,803.91 L832.30,803.79 L833.55,803.67 L834.79,803.55 L836.03,803.43 L837.27,803.32 L838.52,803.20 L839.76,803.08 L841.00,802.96 L842.24,802.84 L843.49,802.73 L844.73,802.61 L845.97,802.49 L847.21,802.37 L848.46,802.26 L849.70,802.14 L850.94,802.02 L852.19,801.91 L853.43,801.79 L854.67,801.68 L855.92,801.56 L857.16,801.45 L858.40,801.34 L859.65,801.22 L860.89,801.11 L862.13,801.00 L863.38,800.89 L864.62,800.77 L865.86,800.66 L867.11,800.55 L868.35,800.45 L869.60,800.34 L870.84,800.23 L872.09,800.12 L873.33,800.02 L874.57,799.91 L875.82,799.81 L877.06,799.70 L878.31,799.60 L879.55,799.50 L880.80,799.39 L882.04,799.29 L883.29,799.19 L884.53,799.09 L885.78,798.99 L887.03,798.90 L888.27,798.80 L889.52,798.70 L890.76,798.61 L892.01,798.51 L893.26,798.42 L894.50,798.32 L895.75,798.23 L896.99,798.14 L898.24,798.05 L899.49,797.95 L900.73,797.86 L901.98,797.77 L903.23,797.68 L904.47,797.60 L905.67,797.51 L906.87,797.43 L908.06,797.34 L909.26,797.26 L910.46,797.18 L911.66,797.10 L912.85,797.02 L914.05,796.94 L915.25,796.86 L916.45,796.78 L917.65,796.70 L918.84,796.62 L920.04,796.54 L921.24,796.46 L922.44,796.39 L923.63,796.31 L924.83,796.24 L926.03,796.16 L927.23,796.09 L928.43,796.01 L929.63,795.94 L930.82,795.87 L932.02,795.79 L933.22,795.72 L934.42,795.65 L935.62,795.58 L936.82,795.51 L938.02,795.44 L939.22,795.37 L940.41,795.30 L941.61,795.23 L942.81,795.16 L944.01,795.10 L945.21,795.03 L946.41,794.96 L947.61,794.90 L948.81,794.83 L950.01,794.76 L951.21,794.70 L952.41,794.63 L953.61,794.57 L954.80,794.51 L956.00,794.44 L957.20,794.38 L958.40,794.32 L959.60,794.26 L960.80,794.19 L962.00,794.13 L963.20,794.07 L964.40,794.01 L965.60,793.95 L966.80,793.89 L968.00,793.83 L969.20,793.77 L970.40,793.71 L971.60,793.66 L972.80,793.60 L974.00,793.54 L975.20,793.48 L976.40,793.43 L977.60,793.37 L978.80,793.31 L980.00,793.26 L981.20,793.20 L982.40,793.15 L983.60,793.09 L984.80,793.04 L986.00,792.98 L987.20,792.93 L988.40,792.87 L989.60,792.82 L990.80,792.77 L992.00,792.72 L993.20,792.66 L994.40,792.61 L995.60,792.56 L996.80,792.51 L998.00,792.46 L999.21,792.41 L1000.41,792.35 L1001.61,792.30 L1002.81,792.25 L1004.01,792.20 L1005.21,792.15 L1006.41,792.10 L1007.61,792.05 L1008.81,792.01 L1010.01,791.96 L1011.21,791.91 L1012.41,791.86 L1013.61,791.81 L1014.81,791.76 L1016.01,791.72 L1017.21,791.67 L1018.41,791.62 L1019.61,791.57 L1020.81,791.53 L1022.01,791.48 L1023.21,791.43 L1024.41,791.39 L1025.61,791.34 L1026.81,791.29 L1028.02,791.25 L1029.22,791.20 L1030.42,791.16 L1031.62,791.11 L1032.82,791.07 L1034.02,791.02 L1035.22,790.98 L1036.42,790.93 L1037.62,790.89 L1038.82,790.84 L1040.02,790.80 L1041.22,790.75 L1042.42,790.71 L1043.62,790.66 L1044.82,790.62 L1046.02,790.58 L1047.22,790.53 L1048.42,790.49 L1049.62,790.45 L1050.82,790.40 L1052.02,790.36 L1053.22,790.32 L1054.42,790.27 L1055.62,790.23 L1056.82,790.19 L1058.02,790.14 L1059.22,790.10 L1060.42,790.06 L1061.62,790.01 L1062.82,789.97 L1064.02,789.93 L1065.22,789.89 L1066.42,789.84 L1067.62,789.80 L1068.82,789.76 L1070.02,789.71 L1071.22,789.67 L1072.42,789.63 L1073.61,789.59 L1074.81,789.54 L1076.01,789.50 L1077.21,789.46 L1078.46,789.41 L1079.71,789.37 L1080.96,789.33 L1082.21,789.28 L1083.46,789.24 L1084.71,789.19 L1085.96,789.15 L1087.20,789.10 L1088.45,789.06 L1089.70,789.01 L1090.95,788.97 L1092.20,788.92 L1093.45,788.88 L1094.70,788.83 L1095.94,788.79 L1097.19,788.74 L1098.44,788.70 L1099.69,788.65 L1100.94,788.61 L1102.19,788.56 L1103.43,788.52 L1104.68,788.47 L1105.93,788.43 L1107.18,788.38 L1108.43,788.33 L1109.67,788.29 L1110.92,788.24 L1112.17,788.19 L1113.42,788.15 L1114.66,788.10 L1115.91,788.05 L1117.16,788.01 L1118.40,787.96 L1119.65,787.91 L1120.90,787.87 L1122.15,787.82 L1123.39,787.77 L1124.64,787.72 L1125.89,787.67 L1127.13,787.63 L1128.38,787.58 L1129.63,787.53 L1130.87,787.48 L1132.12,787.43 L1133.36,787.38 L1134.61,787.33 L1135.86,787.28 L1137.10,787.23 L1138.00,787.19" stroke="#00f"/>
<path d="M209.23,256.14 L209.24,256.12 L209.86,255.68 L210.47,255.24 L211.09,254.80 L211.70,254.36 L212.32,253.92 L212.94,253.48 L213.55,253.04 L214.17,252.60 L214.78,252.16 L215.40,251.72 L216.01,251.28 L216.63,250.84 L217.24,250.40 L217.86,249.96 L218.48,249.52 L219.09,249.07 L219.71,248.63 L220.32,248.19 L220.94,247.75 L221.55,247.31 L222.17,246.87 L222.79,246.43 L223.40,245.99 L224.02,245.55 L224.63,245.11 L225.25,244.67 L225.67,244.36M244.68,223.06 L244.69,223.05 L245.22,222.50 L245.74,221.96 L246.26,221.41 L246.78,220.87 L247.31,220.32 L247.83,219.78 L248.35,219.23 L248.87,218.68 L249.40,218.14 L249.92,217.59 L250.44,217.05 L250.96,216.50 L251.49,215.96 L252.01,215.41 L252.53,214.87 L253.05,214.32 L253.58,213.78 L254.10,213.23 L254.62,212.69 L255.15,212.14 L255.67,211.60 L256.19,211.05 L256.71,210.51 L257.24,209.96 L257.76,209.42 L258.12,209.04M278.56,185.73 L278.57,185.71 L279.09,185.16 L279.60,184.60 L280.11,184.04 L280.63,183.49 L281.14,182.93 L281.66,182.37 L282.17,181.81 L282.69,181.26 L283.20,180.70 L283.71,180.14 L284.23,179.59 L284.74,179.03 L285.26,178.47 L285.77,177.91 L286.29,177.36 L286.80,176.80 L287.31,176.24 L287.83,175.69 L288.34,175.13 L288.86,174.57 L289.37,174.01 L289.89,173.46 L290.40,172.90 L290.91,172.34 L291.43,171.79 L291.44,171.77M311.97,149.55 L311.98,149.55 L312.53,149.04 L313.08,148.53 L313.64,148.02 L314.19,147.52 L314.75,147.01 L315.30,146.50 L315.85,145.99 L316.41,145.48 L316.96,144.98 L317.52,144.47 L318.07,143.96 L318.62,143.45 L319.18,142.95 L319.73,142.44 L320.28,141.93 L320.84,141.42 L321.39,140.92 L321.95,140.41 L322.50,139.90 L323.05,139.39 L323.61,138.88 L324.16,138.38 L324.72,137.87 L325.27,137.36 L325.82,136.85 L325.83,136.85M347.28,116.16 L347.29,116.15 L347.85,115.64 L348.41,115.14 L348.97,114.63 L349.53,114.13 L350.10,113.62 L350.66,113.11 L351.22,112.61 L351.78,112.10 L352.34,111.60 L352.90,111.09 L353.46,110.58 L354.02,110.08 L354.58,109.57 L355.14,109.07 L355.70,108.56 L356.26,108.05 L356.82,107.55 L357.38,107.04 L357.94,106.54 L358.50,106.03 L359.06,105.52 L359.62,105.02 L359.82,104.84M383.97,82.94 L383.98,82.93 L384.54,82.42 L385.10,81.91 L385.65,81.40 L386.21,80.88 L386.76,80.37 L387.32,79.86 L387.88,79.35 L388.43,78.83 L388.99,78.32 L389.54,77.81 L390.10,77.30 L390.66,76.79 L391.21,76.27 L391.77,75.76 L392.33,75.25 L392.88,74.74 L393.44,74.22 L393.99,73.71 L394.55,73.20 L395.11,72.69 L395.66,72.17 L396.22,71.66 L396.78,71.15 L397.33,70.64 L397.53,70.46M411.90,60.75 L411.92,60.74 L412.56,60.34 L413.21,59.95 L413.85,59.55 L414.49,59.15 L415.14,58.76 L415.78,58.36 L416.43,57.96 L417.07,57.56 L417.74,57.20 L418.45,56.92 L419.17,56.63 L419.88,56.35 L420.60,56.06 L421.31,55.78 L422.02,55.49 L422.71,55.44 L423.35,55.87 L423.98,56.30 L424.62,56.72 L425.25,57.15 L425.88,57.58 L426.34,57.88M434.75,70.35 L434.76,70.36 L435.04,71.06 L435.33,71.76 L435.61,72.46 L435.90,73.16 L436.18,73.85 L436.47,74.55 L436.75,75.25 L437.03,75.95 L437.32,76.65 L437.60,77.34 L437.89,78.04 L438.17,78.74 L438.46,79.44 L438.74,80.14 L439.03,80.84 L439.31,81.53 L439.57,82.25 L439.76,82.98 L439.77,83.01M445.39,107.39 L445.39,107.41 L445.46,108.16 L445.53,108.91 L445.60,109.67 L445.67,110.42 L445.74,111.17 L445.81,111.92 L445.89,112.68 L445.96,113.43 L446.03,114.18 L446.10,114.93 L446.17,115.69 L446.24,116.44 L446.31,117.19 L446.38,117.95 L446.45,118.70 L446.52,119.45 L446.59,120.20 L446.67,120.96 L446.74,121.71 L446.81,122.46 L446.88,123.21 L446.95,123.97 L447.02,124.72 L447.09,125.47 L447.16,126.23 L447.23,126.98 L447.30,127.73 L447.37,128.48 L447.45,129.24 L447.52,129.99 L447.59,130.74 L447.61,131.01M450.65,162.59 L450.65,162.60 L450.71,163.35 L450.76,164.10 L450.82,164.85 L450.88,165.60 L450.93,166.35 L450.99,167.10 L451.05,167.85 L451.10,168.60 L451.16,169.35 L451.22,170.10 L451.27,170.85 L451.33,171.60 L451.39,172.35 L451.44,173.10 L451.50,173.85 L451.56,174.60 L451.61,175.35 L451.67,176.10 L451.73,176.85 L451.78,177.60 L451.84,178.35 L451.90,179.10 L451.95,179.85 L452.01,180.60 L452.07,181.35 L452.12,182.10 L452.18,182.85 L452.24,183.60 L452.29,184.35 L452.35,185.10 L452.35,185.11M454.59,218.60 L454.59,218.60 L454.63,219.36 L454.66,220.11 L454.69,220.86 L454.73,221.61 L454.76,222.36 L454.80,223.11 L454.83,223.86 L454.87,224.62 L454.90,225.37 L454.93,226.12 L454.97,226.87 L455.00,227.62 L455.04,228.37 L455.07,229.12 L455.11,229.88 L455.14,230.63 L455.17,231.38 L455.21,232.13 L455.24,232.88 L455.28,233.63 L455.31,234.38 L455.35,235.14 L455.38,235.89 L455.41,236.64 L455.45,237.39 L455.48,238.14 L455.52,238.89 L455.55,239.64 L455.59,240.40 L455.61,240.90M457.56,273.20 L457.56,273.22 L457.58,273.97 L457.61,274.73 L457.63,275.48 L457.65,276.24 L457.67,276.99 L457.70,277.75 L457.72,278.50 L457.74,279.26 L457.76,280.02 L457.79,280.77 L457.81,281.53 L457.83,282.28 L457.85,283.04 L457.88,283.79 L457.90,284.55 L457.92,285.31 L457.95,286.06 L457.97,286.82 L457.99,287.57 L458.01,288.33 L458.04,289.08 L458.06,289.84 L458.08,290.60 L458.10,291.35 L458.13,292.11 L458.15,292.86 L458.17,293.62 L458.19,294.37 L458.22,295.13 L458.24,295.88 L458.24,295.90M459.95,329.40 L459.95,329.40 L459.96,330.16 L459.98,330.91 L460.00,331.66 L460.01,332.41 L460.03,333.16 L460.05,333.91 L460.07,334.66 L460.08,335.42 L460.10,336.17 L460.12,336.92 L460.13,337.67 L460.15,338.42 L460.17,339.17 L460.19,339.92 L460.20,340.68 L460.22,341.43 L460.24,342.18 L460.25,342.93 L460.27,343.68 L460.29,344.43 L460.31,345.18 L460.32,345.94 L460.34,346.69 L460.36,347.44 L460.37,348.19 L460.39,348.94 L460.41,349.69 L460.43,350.44 L460.44,351.20 L460.45,351.70M461.56,385.00 L461.56,385.01 L461.59,385.77 L461.61,386.52 L461.63,387.28 L461.66,388.03 L461.68,388.78 L461.71,389.54 L461.73,390.29 L461.75,391.05 L461.78,391.80 L461.80,392.56 L461.82,393.31 L461.85,394.07 L461.87,394.82 L461.90,395.57 L461.92,396.33 L461.94,397.08 L461.97,397.84 L461.99,398.59 L462.01,399.35 L462.04,400.10 L462.06,400.86 L462.09,401.61 L462.11,402.36 L462.13,403.12 L462.16,403.87 L462.18,404.63 L462.20,405.38 L462.23,406.14 L462.24,406.40M463.34,438.90 L463.34,438.91 L463.36,439.66 L463.38,440.41 L463.39,441.17 L463.41,441.92 L463.43,442.67 L463.44,443.42 L463.46,444.18 L463.47,444.93 L463.49,445.68 L463.51,446.43 L463.52,447.19 L463.54,447.94 L463.56,448.69 L463.57,449.45 L463.59,450.20 L463.61,450.95 L463.62,451.70 L463.64,452.46 L463.65,453.21 L463.67,453.96 L463.69,454.71 L463.70,455.47 L463.72,456.22 L463.74,456.97 L463.75,457.73 L463.77,458.48 L463.79,459.23 L463.80,459.98 L463.82,460.74 L463.83,461.49 L463.85,462.24 L463.86,462.50M465.34,494.80 L465.34,494.80 L465.36,495.55 L465.38,496.30 L465.39,497.05 L465.41,497.80 L465.43,498.55 L465.44,499.30 L465.46,500.05 L465.47,500.80 L465.49,501.55 L465.51,502.30 L465.52,503.05 L465.54,503.80 L465.56,504.55 L465.57,505.30 L465.59,506.05 L465.61,506.80 L465.62,507.55 L465.64,508.30 L465.65,509.05 L465.67,509.80 L465.69,510.55 L465.70,511.30 L465.72,512.05 L465.74,512.80 L465.75,513.55 L465.77,514.30 L465.79,515.05 L465.80,515.80 L465.82,516.55 L465.83,517.30 L465.85,518.05 L465.86,518.30M467.04,550.40 L467.04,550.41 L467.05,551.17 L467.07,551.92 L467.08,552.67 L467.09,553.43 L467.11,554.18 L467.12,554.94 L467.14,555.69 L467.15,556.44 L467.16,557.20 L467.18,557.95 L467.19,558.71 L467.21,559.46 L467.22,560.22 L467.23,560.97 L467.25,561.72 L467.26,562.48 L467.28,563.23 L467.29,563.99 L467.30,564.74 L467.32,565.50 L467.33,566.25 L467.35,567.00 L467.36,567.76 L467.37,568.51 L467.39,569.27 L467.40,570.02 L467.42,570.77 L467.43,571.53 L467.44,572.28 L467.46,573.04 L467.46,573.30M468.85,606.20 L468.85,606.20 L468.86,606.96 L468.88,607.71 L468.90,608.46 L468.91,609.21 L468.93,609.96 L468.95,610.71 L468.97,611.46 L468.98,612.22 L469.00,612.97 L469.02,613.72 L469.03,614.47 L469.05,615.22 L469.07,615.97 L469.09,616.72 L469.10,617.48 L469.12,618.23 L469.14,618.98 L469.15,619.73 L469.17,620.48 L469.19,621.23 L469.21,621.98 L469.22,622.74 L469.24,623.49 L469.26,624.24 L469.27,624.99 L469.29,625.74 L469.31,626.49 L469.33,627.24 L469.34,628.00 L469.35,628.50M471.04,662.40 L471.04,662.40 L471.05,663.15 L471.07,663.90 L471.08,664.65 L471.10,665.40 L471.11,666.15 L471.13,666.90 L471.14,667.65 L471.16,668.40 L471.17,669.15 L471.19,669.90 L471.20,670.65 L471.22,671.40 L471.23,672.15 L471.25,672.90 L471.26,673.65 L471.27,674.40 L471.29,675.15 L471.30,675.90 L471.32,676.65 L471.33,677.40 L471.35,678.15 L471.36,678.90 L471.38,679.65 L471.39,680.40 L471.41,681.15 L471.42,681.90 L471.44,682.65 L471.45,683.40 L471.46,683.90M472.58,717.60 L472.58,717.61 L472.61,718.37 L472.64,719.12 L472.67,719.88 L472.70,720.63 L472.73,721.38 L472.76,722.14 L472.79,722.89 L472.82,723.65 L472.85,724.40 L472.88,725.16 L472.91,725.91 L472.94,726.67 L472.97,727.42 L473.00,728.17 L473.02,728.93 L473.05,729.68 L473.08,730.44 L473.11,731.19 L473.14,731.95 L473.17,732.70 L473.20,733.46 L473.23,734.21 L473.26,734.96 L473.29,735.72 L473.32,736.47 L473.35,737.23 L473.38,737.98 L473.41,738.74 L473.42,739.00M475.69,771.90 L475.69,771.91 L475.72,772.66 L475.75,773.42 L475.78,774.17 L475.82,774.93 L475.85,775.68 L475.88,776.44 L475.91,777.19 L475.95,777.94 L475.98,778.70 L476.01,779.45 L476.04,780.21 L476.08,780.96 L476.11,781.71 L476.14,782.47 L476.17,783.22 L476.21,783.98 L476.24,784.73 L476.27,785.48 L476.30,786.24 L476.34,786.99 L476.37,787.75 L476.40,788.50 L476.43,789.25 L476.46,790.01 L476.50,790.76 L476.53,791.52 L476.56,792.27 L476.59,793.02 L476.63,793.78 L476.66,794.53 L476.69,795.29 L476.71,795.80M484.70,797.41 L484.70,797.41 L484.77,796.66 L484.85,795.91 L484.93,795.17 L485.00,794.42 L485.07,793.67 L485.15,792.92 L485.23,792.18 L485.30,791.43 L485.38,790.68 L485.45,789.93 L485.52,789.19 L485.60,788.44 L485.68,787.69 L485.75,786.94 L485.82,786.20 L485.90,785.45 L485.98,784.70 L486.05,783.96 L486.12,783.21 L486.20,782.46 L486.28,781.71 L486.35,780.97 L486.43,780.22 L486.50,779.47 L486.57,778.72 L486.65,777.98 L486.73,777.23 L486.80,776.48 L486.88,775.73 L486.95,774.99 L487.03,774.24 L487.10,773.49 L487.10,773.49M491.20,740.51 L491.20,740.50 L491.27,739.75 L491.34,739.00 L491.42,738.25 L491.49,737.50 L491.56,736.75 L491.64,736.00 L491.71,735.25 L491.78,734.50 L491.86,733.75 L491.93,733.00 L492.00,732.25 L492.08,731.50 L492.15,730.75 L492.23,730.00 L492.30,729.25 L492.37,728.50 L492.45,727.75 L492.52,727.00 L492.59,726.25 L492.67,725.50 L492.74,724.75 L492.81,724.00 L492.89,723.25 L492.96,722.50 L493.03,721.75 L493.11,721.00 L493.18,720.25 L493.25,719.50 L493.30,718.99M495.34,685.30 L495.34,685.30 L495.39,684.55 L495.45,683.80 L495.50,683.05 L495.55,682.30 L495.61,681.55 L495.66,680.80 L495.71,680.05 L495.76,679.30 L495.82,678.55 L495.87,677.80 L495.92,677.05 L495.98,676.30 L496.03,675.55 L496.08,674.80 L496.14,674.05 L496.19,673.30 L496.24,672.55 L496.29,671.80 L496.35,671.05 L496.40,670.30 L496.45,669.55 L496.51,668.80 L496.56,668.05 L496.61,667.30 L496.66,666.55 L496.72,665.80 L496.77,665.05 L496.82,664.30 L496.86,663.80M499.00,629.81 L499.00,629.79 L499.08,629.04 L499.16,628.29 L499.23,627.53 L499.31,626.78 L499.39,626.03 L499.46,625.27 L499.54,624.52 L499.62,623.77 L499.69,623.02 L499.77,622.26 L499.85,621.51 L499.92,620.76 L500.00,620.00 L500.07,619.25 L500.15,618.50 L500.23,617.75 L500.30,616.99 L500.38,616.24 L500.46,615.49 L500.53,614.73 L500.61,613.98 L500.69,613.23 L500.76,612.47 L500.84,611.72 L500.92,610.97 L500.99,610.22 L501.07,609.46 L501.15,608.71 L501.20,608.19M504.16,574.61 L504.16,574.59 L504.22,573.84 L504.27,573.09 L504.33,572.33 L504.39,571.58 L504.45,570.83 L504.51,570.07 L504.57,569.32 L504.63,568.57 L504.69,567.82 L504.75,567.06 L504.80,566.31 L504.86,565.56 L504.92,564.80 L504.98,564.05 L505.04,563.30 L505.10,562.55 L505.16,561.79 L505.22,561.04 L505.27,560.29 L505.33,559.53 L505.39,558.78 L505.45,558.03 L505.51,557.27 L505.57,556.52 L505.63,555.77 L505.69,555.02 L505.75,554.26 L505.80,553.51 L505.84,552.99M510.45,519.72 L510.45,519.72 L510.54,518.97 L510.64,518.23 L510.73,517.48 L510.82,516.74 L510.92,515.99 L511.01,515.25 L511.10,514.50 L511.20,513.76 L511.29,513.02 L511.38,512.27 L511.48,511.53 L511.57,510.78 L511.66,510.04 L511.76,509.29 L511.85,508.55 L511.94,507.81 L512.04,507.06 L512.13,506.32 L512.22,505.57 L512.32,504.83 L512.41,504.08 L512.50,503.34 L512.60,502.60 L512.69,501.85 L512.78,501.11 L512.88,500.36 L512.97,499.62 L513.06,498.87 L513.16,498.13 L513.25,497.38 L513.25,497.38M518.39,465.12 L518.40,465.10 L518.51,464.36 L518.62,463.61 L518.73,462.86 L518.84,462.11 L518.95,461.36 L519.07,460.61 L519.18,459.86 L519.29,459.12 L519.40,458.37 L519.51,457.62 L519.62,456.87 L519.73,456.12 L519.85,455.37 L519.96,454.62 L520.07,453.88 L520.18,453.13 L520.29,452.38 L520.40,451.63 L520.51,450.88 L520.63,450.13 L520.74,449.38 L520.85,448.64 L520.96,447.89 L521.07,447.14 L521.18,446.39 L521.29,445.64 L521.41,444.89 L521.52,444.14 L521.63,443.40 L521.71,442.88M529.59,409.96 L529.59,409.96 L529.77,409.23 L529.95,408.50 L530.14,407.77 L530.32,407.04 L530.50,406.31 L530.69,405.58 L530.87,404.85 L531.05,404.12 L531.24,403.39 L531.42,402.67 L531.60,401.94 L531.78,401.21 L531.97,400.48 L532.15,399.75 L532.33,399.02 L532.52,398.29 L532.70,397.56 L532.88,396.83 L533.07,396.11 L533.25,395.38 L533.43,394.65 L533.61,393.92 L533.80,393.19 L533.98,392.46 L534.16,391.73 L534.35,391.00 L534.53,390.27 L534.71,389.54 L534.71,389.54M545.12,358.48 L545.12,358.47 L545.43,357.78 L545.74,357.09 L546.05,356.40 L546.36,355.72 L546.67,355.03 L546.98,354.34 L547.29,353.65 L547.60,352.97 L547.91,352.28 L548.22,351.59 L548.53,350.90 L548.84,350.22 L549.15,349.53 L549.46,348.84 L549.77,348.15 L550.08,347.47 L550.38,346.78 L550.69,346.09 L551.00,345.40 L551.31,344.72 L551.62,344.03 L551.93,343.34 L552.24,342.65 L552.55,341.97 L552.86,341.28 L553.17,340.59 L553.38,340.12M568.45,314.82 L568.45,314.82 L568.96,314.26 L569.46,313.70 L569.97,313.15 L570.48,312.59 L570.98,312.03 L571.49,311.48 L572.00,310.92 L572.50,310.36 L573.01,309.81 L573.52,309.25 L574.02,308.69 L574.53,308.14 L575.04,307.58 L575.54,307.02 L576.05,306.47 L576.56,305.91 L577.06,305.35 L577.57,304.80 L578.08,304.24 L578.58,303.68 L579.09,303.13 L579.60,302.57 L580.10,302.01 L580.61,301.46 L580.95,301.08M605.39,284.55 L605.41,284.55 L606.12,284.31 L606.84,284.06 L607.55,283.82 L608.27,283.57 L608.98,283.33 L609.70,283.09 L610.42,282.84 L611.13,282.60 L611.85,282.35 L612.56,282.11 L613.28,281.87 L613.99,281.62 L614.71,281.38 L615.42,281.13 L616.14,280.89 L616.85,280.65 L617.57,280.40 L618.28,280.16 L619.00,279.91 L619.72,279.67 L620.43,279.43 L621.15,279.18 L621.86,278.94 L622.58,278.69 L623.29,278.45 L623.31,278.45M642.00,276.02 L642.00,276.02 L642.75,276.02 L643.50,276.03 L644.25,276.04 L645.00,276.04 L645.75,276.05 L646.50,276.06 L647.25,276.06 L648.00,276.07 L648.75,276.08 L649.50,276.08 L650.25,276.09 L651.00,276.10 L651.75,276.10 L652.50,276.11 L653.25,276.12 L654.00,276.12 L654.75,276.13 L655.50,276.13 L656.25,276.14 L657.00,276.15 L657.75,276.15 L658.50,276.16 L659.25,276.17 L660.00,276.17 L660.75,276.18 L661.00,276.18M685.42,280.36 L685.44,280.37 L686.17,280.58 L686.90,280.80 L687.62,281.01 L688.35,281.23 L689.08,281.44 L689.81,281.65 L690.53,281.87 L691.26,282.08 L691.99,282.29 L692.72,282.51 L693.44,282.72 L694.17,282.94 L694.90,283.15 L695.63,283.36 L696.35,283.58 L697.08,283.79 L697.81,284.00 L698.54,284.22 L699.26,284.43 L699.99,284.65 L700.72,284.86 L701.45,285.07 L702.17,285.29 L702.68,285.44M727.42,294.94 L727.43,294.95 L728.12,295.26 L728.80,295.58 L729.49,295.90 L730.17,296.21 L730.86,296.53 L731.55,296.85 L732.23,297.17 L732.92,297.48 L733.61,297.80 L734.29,298.12 L734.98,298.44 L735.66,298.75 L736.35,299.07 L737.04,299.39 L737.72,299.70 L738.41,300.02 L739.10,300.34 L739.78,300.66 L740.47,300.97 L741.15,301.29 L741.84,301.61 L742.53,301.93 L743.21,302.24 L743.68,302.46M768.22,317.51 L768.23,317.52 L768.88,317.90 L769.53,318.28 L770.18,318.66 L770.83,319.04 L771.48,319.43 L772.12,319.81 L772.77,320.19 L773.42,320.57 L774.07,320.95 L774.72,321.33 L775.37,321.71 L776.02,322.10 L776.67,322.48 L777.32,322.86 L777.96,323.24 L778.61,323.62 L779.26,324.00 L779.91,324.38 L780.56,324.77 L781.21,325.15 L781.86,325.53 L782.51,325.91 L783.16,326.29 L783.80,326.67 L784.45,327.06 L784.68,327.19M808.86,346.75 L808.87,346.76 L809.45,347.23 L810.04,347.70 L810.63,348.17 L811.21,348.64 L811.80,349.11 L812.39,349.58 L812.98,350.05 L813.56,350.52 L814.15,350.99 L814.74,351.47 L815.32,351.94 L815.91,352.41 L816.50,352.88 L817.08,353.35 L817.67,353.82 L818.26,354.29 L818.85,354.76 L819.43,355.23 L820.02,355.70 L820.61,356.18 L821.19,356.65 L821.78,357.12 L822.37,357.59 L822.96,358.06 L823.54,358.53 L823.94,358.85M846.96,380.57 L846.96,380.57 L847.51,381.09 L848.06,381.60 L848.61,382.12 L849.16,382.63 L849.71,383.15 L850.26,383.66 L850.81,384.18 L851.36,384.69 L851.91,385.21 L852.45,385.72 L853.00,386.24 L853.55,386.75 L854.10,387.27 L854.65,387.78 L855.20,388.30 L855.75,388.82 L856.30,389.33 L856.85,389.85 L857.40,390.36 L857.95,390.88 L858.49,391.39 L859.04,391.91 L859.59,392.42 L860.14,392.94 L860.69,393.45 L861.24,393.97 L861.79,394.48 L862.34,395.00 L862.89,395.51 L863.44,396.03 L863.98,396.54 L864.53,397.06 L865.08,397.57 L865.63,398.09 L866.18,398.60 L866.73,399.12 L867.28,399.63 L867.83,400.15 L868.38,400.66 L868.93,401.18 L869.48,401.69 L870.02,402.21 L870.57,402.72 L871.12,403.24 L871.67,403.75 L872.22,404.27 L872.77,404.78 L873.14,405.13M893.35,426.08 L893.36,426.08 L893.90,426.60 L894.45,427.12 L895.00,427.63 L895.54,428.15 L896.09,428.67 L896.63,429.19 L897.18,429.71 L897.73,430.22 L898.27,430.74 L898.82,431.26 L899.37,431.78 L899.91,432.30 L900.46,432.81 L901.01,433.33 L901.55,433.85 L902.10,434.37 L902.64,434.89 L903.19,435.40 L903.74,435.92 L904.28,436.44 L904.83,436.96 L905.38,437.47 L905.92,437.99 L906.47,438.51 L907.01,439.03 L907.56,439.55 L907.75,439.72M927.91,462.51 L927.93,462.53 L928.46,463.06 L929.00,463.60 L929.53,464.13 L930.07,464.67 L930.60,465.20 L931.13,465.73 L931.67,466.27 L932.20,466.80 L932.74,467.34 L933.27,467.87 L933.81,468.41 L934.34,468.94 L934.88,469.48 L935.41,470.01 L935.95,470.55 L936.48,471.08 L937.02,471.62 L937.55,472.15 L938.09,472.69 L938.62,473.22 L939.16,473.76 L939.69,474.29 L940.23,474.83 L940.76,475.36 L941.30,475.90 L941.49,476.09M960.01,499.21 L960.02,499.22 L960.55,499.75 L961.08,500.28 L961.61,500.81 L962.14,501.34 L962.67,501.87 L963.20,502.40 L963.73,502.93 L964.26,503.46 L964.80,504.00 L965.33,504.53 L965.86,505.06 L966.39,505.59 L966.92,506.12 L967.45,506.65 L967.98,507.18 L968.51,507.71 L969.04,508.24 L969.57,508.77 L970.11,509.31 L970.64,509.84 L971.17,510.37 L971.70,510.90 L972.23,511.43 L972.59,511.79M992.75,535.68 L992.77,535.69 L993.32,536.21 L993.87,536.73 L994.42,537.25 L994.97,537.78 L995.52,538.30 L996.07,538.82 L996.62,539.34 L997.17,539.86 L997.72,540.38 L998.27,540.90 L998.82,541.43 L999.37,541.95 L999.92,542.47 L1000.47,542.99 L1001.02,543.51 L1001.57,544.03 L1002.12,544.55 L1002.67,545.08 L1003.22,545.60 L1003.77,546.12 L1004.32,546.64 L1004.87,547.16 L1005.25,547.52M1027.31,570.32 L1027.32,570.33 L1027.86,570.87 L1028.39,571.41 L1028.92,571.94 L1029.46,572.48 L1029.99,573.02 L1030.53,573.56 L1031.06,574.09 L1031.59,574.63 L1032.13,575.17 L1032.66,575.70 L1033.19,576.24 L1033.73,576.78 L1034.26,577.32 L1034.80,577.85 L1035.33,578.39 L1035.86,578.93 L1036.40,579.47 L1036.93,580.00 L1037.46,580.54 L1038.00,581.08 L1038.53,581.61 L1039.07,582.15 L1039.60,582.69 L1039.79,582.88M1060.04,604.77 L1060.05,604.77 L1060.63,605.25 L1061.21,605.73 L1061.79,606.21 L1062.37,606.68 L1062.95,607.16 L1063.53,607.64 L1064.11,608.12 L1064.69,608.59 L1065.27,609.07 L1065.85,609.55 L1066.43,610.03 L1067.01,610.50 L1067.59,610.98 L1068.17,611.46 L1068.76,611.94 L1069.34,612.41 L1069.92,612.89 L1070.50,613.37 L1071.08,613.85 L1071.66,614.32 L1072.24,614.80 L1072.82,615.28 L1073.40,615.76 L1073.98,616.23 L1074.56,616.71 L1075.14,617.19 L1075.72,617.67 L1076.30,618.14 L1076.88,618.62 L1077.46,619.10 L1078.04,619.58 L1078.62,620.05 L1079.20,620.53 L1079.78,621.01 L1080.36,621.49 L1080.94,621.96 L1081.53,622.44 L1082.11,622.92 L1082.69,623.40 L1083.27,623.87 L1083.85,624.35 L1084.43,624.83 L1085.01,625.31 L1085.59,625.78 L1086.17,626.26 L1086.75,626.74 L1087.33,627.22 L1087.91,627.69 L1088.49,628.17 L1089.07,628.65 L1089.65,629.13 L1089.66,629.13M1114.07,646.74 L1114.07,646.74 L1114.74,647.09 L1115.40,647.44 L1116.07,647.79 L1116.73,648.14 L1117.40,648.50 L1118.06,648.85 L1118.72,649.20 L1119.39,649.55 L1120.05,649.90 L1120.72,650.26 L1121.38,650.61 L1122.05,650.96 L1122.71,651.31 L1123.38,651.66 L1124.04,652.01 L1124.71,652.37 L1125.37,652.72 L1126.04,653.07 L1126.70,653.42 L1127.37,653.77 L1128.03,654.12 L1128.69,654.48 L1129.36,654.83 L1130.02,655.18 L1130.69,655.53 L1131.35,655.88 L1132.02,656.23 L1132.68,656.59 L1133.35,656.94 L1134.01,657.29 L1134.68,657.64 L1135.34,657.99 L1136.01,658.34 L1136.23,658.46" stroke="#00f"/>
</g>
<g stroke-width="6.00" stroke-linecap="round">
<path d="M601.5,543.5H703.5" stroke="#000"/>
<path d="M601.5,599.8H703.5" stroke="#00f"/>
<path d="M601.5,656.4H625.3M656.8,656.4H680.6" stroke="#000"/>
<path d="M601.5,712.3H625.3M656.8,712.3H680.6" stroke="#00f"/>
</g>
<text x="120.40" y="830.30" font-size="62" textLength="78.90" lengthAdjust="spacing">0.0</text>
<text x="120.40" y="679.00" font-size="62" textLength="78.70" lengthAdjust="spacing">0.2</text>
<text x="120.40" y="527.70" font-size="62" textLength="76.70" lengthAdjust="spacing">0.4</text>
<text x="120.40" y="376.40" font-size="62" textLength="77.70" lengthAdjust="spacing">0.6</text>
<text x="120.40" y="225.10" font-size="62" textLength="77.70" lengthAdjust="spacing">0.8</text>
<text x="122.80" y="73.80" font-size="62" textLength="76.30" lengthAdjust="spacing">1.0</text>
<text x="158.20" y="875.20" font-size="62.5" textLength="111.58" lengthAdjust="spacing">0.80</text>
<text x="313.70" y="875.20" font-size="62.5" textLength="108.17" lengthAdjust="spacing">0.85</text>
<text x="468.20" y="875.20" font-size="62.5" textLength="111.58" lengthAdjust="spacing">0.90</text>
<text x="623.20" y="875.20" font-size="62.5" textLength="108.77" lengthAdjust="spacing">0.95</text>
<text x="779.60" y="875.20" font-size="62.5" textLength="109.97" lengthAdjust="spacing">1.00</text>
<text x="933.90" y="875.20" font-size="62.5" textLength="107.58" lengthAdjust="spacing">1.05</text>
<text x="1088.50" y="875.20" font-size="62.5" textLength="109.38" lengthAdjust="spacing">1.10</text>
<text x="405.40" y="954.00" font-size="78" textLength="576.84" lengthAdjust="spacing">Wavelength [µm]</text>
<text transform="translate(75.30,635.00) rotate(-90)" x="-2.00" y="0" font-size="78" textLength="395.15" lengthAdjust="spacing">Reﬂectivity</text>
<text x="714.50" y="559.30" font-size="47" textLength="185.36" lengthAdjust="spacing">TE, HCG</text>
<text x="714.50" y="615.70" font-size="47" textLength="197.23" lengthAdjust="spacing">TM, HCG</text>
<text x="714.50" y="672.10" font-size="47" textLength="286.01" lengthAdjust="spacing">TE, top mirror</text>
<text x="714.50" y="728.50" font-size="47" textLength="298.69" lengthAdjust="spacing">TM, top mirror</text>
<rect x="1196" y="0" width="14" height="989" fill="#fff"/>
</g>
</svg></body></html>
